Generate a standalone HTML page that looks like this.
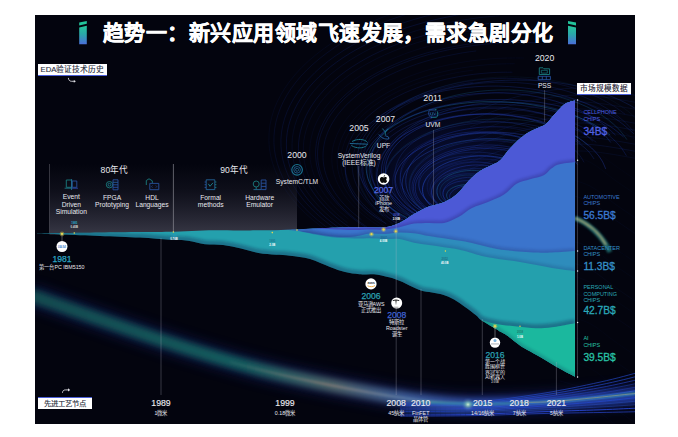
<!DOCTYPE html>
<html lang="zh-CN"><head><meta charset="utf-8">
<style>
html,body{margin:0;padding:0;background:#fff;}
body{width:678px;height:437px;position:relative;overflow:hidden;font-family:"Liberation Sans",sans-serif;}
#panel{position:absolute;left:35px;top:15px;width:600px;height:409px;background:#03040e;overflow:hidden;}
svg{position:absolute;left:0;top:0;}
.t{position:absolute;white-space:nowrap;line-height:1;transform:translate(-50%,-50%);color:#e9e9ef;text-align:center;}
.l{position:absolute;white-space:nowrap;line-height:1;transform:translate(0,-50%);}
.title{position:absolute;left:103px;top:21px;font-size:21px;font-weight:bold;-webkit-text-stroke:0.45px #fff;color:#fff;white-space:nowrap;line-height:24px;letter-spacing:0.46px;}
.lab{position:absolute;background:#fff;color:#252a38;-webkit-text-stroke:0.12px currentColor;font-size:7.3px;line-height:11px;text-align:center;white-space:nowrap;}
.yr{font-size:8.7px;-webkit-text-stroke:0.15px currentColor;}
.yr2{font-size:8.7px;}
.sm{font-size:5.3px;}
.ic{font-size:6.7px;line-height:7.4px;text-align:center;}
.big{font-size:8.6px;-webkit-text-stroke:0.25px currentColor;}
</style></head>
<body>
<div id="panel"></div>
<svg width="678" height="437" viewBox="0 0 678 437">
  <defs>
    <linearGradient id="gi" x1="0" y1="0" x2="0" y2="1">
      <stop offset="0" stop-color="#26c69a"/><stop offset="0.45" stop-color="#2aa8a8"/><stop offset="1" stop-color="#4a6ed8"/>
    </linearGradient>
    <linearGradient id="gpanel" x1="0" y1="0" x2="0" y2="1">
      <stop offset="0" stop-color="#2c2c38" stop-opacity="0"/><stop offset="0.35" stop-color="#2c2c3a" stop-opacity="0.25"/><stop offset="1" stop-color="#3a3a48" stop-opacity="0.95"/>
    </linearGradient>
    <linearGradient id="gicon" x1="0" y1="0" x2="0" y2="1">
      <stop offset="0" stop-color="#1fa3a8"/><stop offset="1" stop-color="#3b5fd0"/>
    </linearGradient>
    <filter id="blur2"><feGaussianBlur stdDeviation="2"/></filter>
    <filter id="blur1"><feGaussianBlur stdDeviation="0.8"/></filter>
    <filter id="blur5"><feGaussianBlur stdDeviation="5"/></filter>
    <clipPath id="pclip"><rect x="35" y="15" width="600" height="409"/></clipPath>
  </defs>
  <g clip-path="url(#pclip)">
    <!-- swirl background -->
    <radialGradient id="gvort" cx="0.5" cy="0.5" r="0.5">
      <stop offset="0" stop-color="#1a34a8" stop-opacity="0.30"/><stop offset="0.6" stop-color="#10208a" stop-opacity="0.15"/><stop offset="1" stop-color="#0a1250" stop-opacity="0"/>
    </radialGradient>
    <ellipse cx="450" cy="175" rx="95" ry="75" fill="url(#gvort)"/>
    <path d="M484.0,192.4 C483.9,192.2 483.5,191.5 483.1,191.1 C482.7,190.6 482.3,190.2 481.8,189.8 C481.3,189.4 480.7,189.0 480.1,188.6 C479.5,188.3 478.8,188.0 478.1,187.7 C477.4,187.4 476.6,187.1 475.8,186.9 C475.0,186.6 474.2,186.4 473.3,186.3 C472.5,186.1 471.6,186.0 470.7,185.9 C469.8,185.9 468.9,185.8 468.0,185.8 C467.1,185.9 466.3,185.9 465.4,186.0 C464.5,186.1 463.7,186.2 462.8,186.3 C462.0,186.5 461.2,186.7 460.4,186.9 C459.6,187.1 458.9,187.4 458.2,187.6 C457.5,187.9 456.8,188.2 456.2,188.5 C455.6,188.8 455.0,189.1 454.5,189.5 C453.9,189.8 453.4,190.2 453.0,190.6 C452.5,191.0 452.1,191.4 451.7,191.8 C451.4,192.2 451.0,192.6 450.8,193.1 C450.5,193.5 450.3,193.9 450.1,194.4 C449.9,194.8 449.8,195.3 449.7,195.8 C449.7,196.2 449.6,196.7 449.7,197.2 C449.7,197.6 449.8,198.1 450.0,198.6 C450.2,199.0 450.4,199.5 450.7,199.9 C451.0,200.4 451.3,200.8 451.7,201.3 C452.1,201.7 452.6,202.1 453.2,202.5 C453.7,202.9 454.3,203.3 455.0,203.6 C455.6,203.9 456.7,204.4 457.1,204.5" fill="none" stroke="#2446d0" stroke-width="0.8" opacity="0.42"/>
    <path d="M488.8,193.2 C488.6,192.9 488.2,192.1 487.8,191.5 C487.4,191.0 486.9,190.4 486.3,189.9 C485.8,189.4 485.1,189.0 484.4,188.5 C483.7,188.1 482.9,187.7 482.1,187.3 C481.3,187.0 480.4,186.6 479.6,186.3 C478.7,186.1 477.8,185.8 476.8,185.6 C475.9,185.4 474.9,185.2 473.9,185.0 C472.9,184.9 471.9,184.8 470.9,184.7 C469.9,184.6 468.9,184.6 467.9,184.6 C466.9,184.6 465.9,184.6 464.9,184.7 C463.9,184.7 462.9,184.8 461.9,185.0 C460.9,185.1 459.9,185.3 459.0,185.5 C458.0,185.7 457.1,186.0 456.2,186.3 C455.3,186.6 454.4,186.9 453.6,187.3 C452.8,187.7 452.0,188.1 451.3,188.5 C450.6,188.9 450.0,189.4 449.4,189.9 C448.9,190.4 448.4,191.0 448.0,191.5 C447.6,192.1 447.2,192.7 447.0,193.2 C446.8,193.8 446.7,194.4 446.6,195.0 C446.6,195.6 446.7,196.2 446.8,196.8 C447.0,197.4 447.3,198.0 447.6,198.5 C448.0,199.1 448.4,199.7 448.9,200.2 C449.4,200.7 450.0,201.2 450.7,201.7 C451.3,202.1 452.0,202.5 452.8,202.9 C453.6,203.3 454.4,203.7 455.3,204.0 C456.1,204.3 457.5,204.7 457.9,204.9" fill="none" stroke="#1c70a8" stroke-width="0.8" opacity="0.55"/>
    <path d="M493.1,188.6 C492.8,188.3 491.9,187.5 491.2,187.0 C490.5,186.4 489.8,185.9 489.0,185.5 C488.2,185.0 487.3,184.6 486.4,184.2 C485.5,183.8 484.6,183.4 483.6,183.1 C482.7,182.7 481.7,182.4 480.6,182.2 C479.6,181.9 478.5,181.7 477.5,181.5 C476.4,181.3 475.3,181.1 474.2,181.0 C473.1,180.8 471.9,180.7 470.8,180.7 C469.7,180.6 468.5,180.6 467.4,180.6 C466.2,180.6 465.1,180.7 463.9,180.8 C462.8,180.9 461.6,181.0 460.5,181.2 C459.4,181.4 458.2,181.6 457.1,181.8 C456.1,182.1 455.0,182.4 454.0,182.8 C453.0,183.1 452.0,183.5 451.1,184.0 C450.2,184.4 449.3,184.9 448.5,185.4 C447.7,185.9 447.0,186.4 446.3,187.0 C445.7,187.6 445.1,188.2 444.7,188.8 C444.2,189.4 443.8,190.1 443.6,190.7 C443.3,191.4 443.1,192.1 443.0,192.7 C442.9,193.4 442.9,194.1 443.0,194.7 C443.1,195.4 443.3,196.1 443.6,196.7 C443.9,197.4 444.3,198.0 444.8,198.6 C445.2,199.2 445.8,199.8 446.4,200.4 C447.0,200.9 447.6,201.5 448.4,202.0 C449.1,202.5 449.9,203.0 450.7,203.4 C451.5,203.8 452.9,204.4 453.3,204.6" fill="none" stroke="#2446d0" stroke-width="0.7" opacity="0.42"/>
    <path d="M496.7,189.3 C496.4,188.9 495.9,187.8 495.3,187.1 C494.8,186.3 494.2,185.6 493.5,184.9 C492.8,184.3 492.0,183.6 491.0,183.0 C490.1,182.4 489.1,181.8 488.1,181.2 C487.0,180.7 485.8,180.2 484.6,179.7 C483.3,179.3 482.0,178.9 480.6,178.5 C479.3,178.2 477.8,177.9 476.4,177.7 C474.9,177.5 473.4,177.4 471.9,177.3 C470.4,177.3 468.8,177.3 467.3,177.4 C465.8,177.5 464.3,177.7 462.9,177.9 C461.4,178.1 460.0,178.4 458.7,178.8 C457.3,179.2 456.0,179.6 454.8,180.1 C453.6,180.5 452.5,181.1 451.5,181.7 C450.4,182.2 449.5,182.9 448.6,183.5 C447.8,184.1 447.0,184.8 446.4,185.5 C445.7,186.2 445.2,187.0 444.7,187.7 C444.2,188.4 443.8,189.2 443.6,189.9 C443.3,190.7 443.1,191.5 443.0,192.2 C442.9,193.0 442.9,193.8 443.0,194.5 C443.0,195.3 443.2,196.1 443.5,196.8 C443.7,197.6 444.1,198.3 444.5,199.1 C445.0,199.8 445.5,200.5 446.1,201.2 C446.8,201.9 447.5,202.6 448.3,203.3 C449.1,203.9 450.1,204.6 451.1,205.1 C452.1,205.7 453.1,206.3 454.3,206.8 C455.5,207.3 457.4,207.9 458.1,208.1" fill="none" stroke="#2a56e0" stroke-width="0.6" opacity="0.40"/>
    <path d="M497.5,184.3 C497.1,184.0 496.1,183.0 495.2,182.4 C494.4,181.8 493.5,181.3 492.6,180.7 C491.6,180.2 490.6,179.6 489.5,179.2 C488.5,178.7 487.3,178.2 486.2,177.8 C485.0,177.4 483.8,177.0 482.5,176.7 C481.2,176.3 479.9,176.0 478.5,175.8 C477.1,175.6 475.7,175.4 474.3,175.2 C472.9,175.1 471.4,175.0 470.0,175.0 C468.5,175.0 467.0,175.0 465.6,175.1 C464.1,175.2 462.7,175.4 461.3,175.6 C459.8,175.8 458.4,176.1 457.1,176.4 C455.7,176.8 454.4,177.2 453.2,177.6 C452.0,178.1 450.8,178.6 449.7,179.1 C448.6,179.7 447.6,180.3 446.7,180.9 C445.7,181.5 444.9,182.2 444.2,182.9 C443.4,183.6 442.8,184.3 442.2,185.0 C441.7,185.8 441.2,186.5 440.9,187.3 C440.5,188.0 440.3,188.8 440.1,189.6 C440.0,190.4 439.9,191.1 440.0,191.9 C440.0,192.7 440.1,193.5 440.3,194.2 C440.5,195.0 440.8,195.7 441.2,196.4 C441.5,197.2 442.0,197.9 442.5,198.6 C443.0,199.3 443.6,200.0 444.2,200.6 C444.9,201.3 445.6,201.9 446.4,202.6 C447.1,203.2 448.0,203.8 448.9,204.3 C449.8,204.9 451.3,205.7 451.8,206.0" fill="none" stroke="#1c70a8" stroke-width="0.7" opacity="0.33"/>
    <path d="M504.9,185.7 C504.5,185.3 503.5,184.1 502.7,183.4 C501.8,182.7 500.9,182.0 499.9,181.4 C499.0,180.7 497.9,180.1 496.8,179.5 C495.7,178.9 494.5,178.4 493.3,177.9 C492.1,177.4 490.8,177.0 489.5,176.6 C488.2,176.2 486.9,175.8 485.5,175.5 C484.1,175.1 482.7,174.9 481.3,174.6 C479.8,174.4 478.4,174.2 476.9,174.0 C475.4,173.9 473.9,173.8 472.4,173.7 C470.9,173.7 469.4,173.7 467.8,173.7 C466.3,173.8 464.8,173.9 463.3,174.0 C461.7,174.2 460.2,174.4 458.7,174.7 C457.3,174.9 455.8,175.3 454.4,175.6 C453.0,176.0 451.6,176.4 450.3,176.9 C448.9,177.4 447.7,178.0 446.5,178.6 C445.3,179.2 444.2,179.8 443.2,180.5 C442.2,181.2 441.3,181.9 440.5,182.7 C439.7,183.5 439.0,184.3 438.4,185.1 C437.8,185.9 437.3,186.8 437.0,187.7 C436.7,188.5 436.5,189.4 436.4,190.3 C436.3,191.2 436.3,192.1 436.5,193.0 C436.6,193.8 436.9,194.7 437.3,195.5 C437.7,196.4 438.2,197.2 438.8,198.0 C439.4,198.8 440.1,199.6 440.8,200.3 C441.6,201.1 442.5,201.8 443.4,202.5 C444.4,203.1 446.0,204.0 446.5,204.4" fill="none" stroke="#2446d0" stroke-width="0.6" opacity="0.32"/>
    <path d="M503.9,181.4 C503.5,181.0 502.3,179.8 501.4,179.1 C500.5,178.4 499.5,177.6 498.4,177.0 C497.3,176.3 496.1,175.7 494.9,175.1 C493.6,174.5 492.3,173.9 490.9,173.4 C489.5,172.9 488.0,172.5 486.4,172.1 C484.9,171.7 483.3,171.4 481.7,171.1 C480.0,170.9 478.3,170.7 476.7,170.6 C475.0,170.4 473.2,170.4 471.5,170.4 C469.8,170.4 468.1,170.5 466.4,170.7 C464.8,170.9 463.1,171.1 461.5,171.4 C459.9,171.7 458.3,172.1 456.8,172.5 C455.3,172.9 453.8,173.4 452.5,174.0 C451.1,174.5 449.8,175.1 448.6,175.7 C447.4,176.4 446.3,177.1 445.3,177.8 C444.3,178.5 443.3,179.3 442.5,180.0 C441.7,180.8 440.9,181.6 440.3,182.4 C439.7,183.2 439.1,184.1 438.7,184.9 C438.2,185.8 437.9,186.6 437.6,187.5 C437.4,188.4 437.2,189.2 437.1,190.1 C437.0,191.0 437.1,191.8 437.1,192.7 C437.2,193.6 437.4,194.4 437.7,195.3 C438.0,196.1 438.3,197.0 438.8,197.8 C439.2,198.6 439.8,199.5 440.4,200.3 C441.0,201.1 441.7,201.9 442.5,202.7 C443.3,203.4 444.2,204.2 445.2,204.9 C446.2,205.6 447.8,206.6 448.4,206.9" fill="none" stroke="#1c70a8" stroke-width="0.8" opacity="0.50"/>
    <path d="M514.1,182.7 C513.7,182.2 512.6,180.6 511.7,179.7 C510.7,178.7 509.6,177.7 508.4,176.9 C507.1,176.0 505.8,175.1 504.3,174.4 C502.8,173.6 501.2,172.9 499.6,172.3 C497.9,171.7 496.1,171.2 494.3,170.7 C492.5,170.2 490.7,169.8 488.8,169.5 C486.9,169.2 485.0,169.0 483.0,168.8 C481.1,168.7 479.1,168.6 477.2,168.6 C475.3,168.6 473.4,168.7 471.5,168.8 C469.6,168.9 467.7,169.1 465.9,169.4 C464.0,169.6 462.2,169.9 460.5,170.3 C458.7,170.7 457.0,171.1 455.4,171.6 C453.7,172.1 452.1,172.6 450.6,173.2 C449.0,173.8 447.5,174.5 446.1,175.2 C444.7,175.8 443.4,176.6 442.1,177.4 C440.9,178.2 439.7,179.0 438.7,179.9 C437.6,180.8 436.6,181.7 435.8,182.7 C435.0,183.6 434.2,184.6 433.6,185.7 C433.0,186.7 432.6,187.8 432.3,188.8 C432.0,189.9 431.8,191.0 431.8,192.1 C431.8,193.2 432.0,194.3 432.3,195.4 C432.6,196.5 433.1,197.6 433.8,198.7 C434.4,199.7 435.2,200.8 436.2,201.7 C437.1,202.7 438.3,203.7 439.5,204.6 C440.7,205.4 442.1,206.3 443.6,207.0 C445.0,207.8 447.5,208.8 448.3,209.1" fill="none" stroke="#2a56e0" stroke-width="0.8" opacity="0.28"/>
    <path d="M510.3,174.2 C509.7,173.8 507.8,172.5 506.4,171.6 C504.9,170.8 503.4,170.1 501.7,169.4 C500.1,168.7 498.3,168.1 496.5,167.6 C494.7,167.0 492.8,166.6 490.8,166.2 C488.9,165.8 486.8,165.5 484.8,165.3 C482.8,165.1 480.7,165.0 478.7,165.0 C476.6,164.9 474.6,165.0 472.6,165.1 C470.5,165.2 468.5,165.5 466.6,165.7 C464.6,166.0 462.7,166.4 460.9,166.8 C459.0,167.3 457.2,167.8 455.5,168.3 C453.8,168.8 452.2,169.5 450.7,170.1 C449.1,170.8 447.7,171.5 446.3,172.2 C444.9,173.0 443.6,173.8 442.4,174.6 C441.2,175.4 440.1,176.3 439.1,177.2 C438.1,178.1 437.2,179.0 436.4,179.9 C435.5,180.9 434.8,181.9 434.2,182.9 C433.6,183.9 433.0,184.9 432.6,185.9 C432.2,186.9 431.9,188.0 431.7,189.0 C431.5,190.1 431.4,191.2 431.5,192.3 C431.5,193.3 431.7,194.4 432.0,195.5 C432.3,196.6 432.7,197.6 433.3,198.7 C433.8,199.7 434.5,200.8 435.4,201.8 C436.2,202.8 437.2,203.8 438.3,204.7 C439.4,205.7 440.6,206.6 442.0,207.4 C443.3,208.3 444.8,209.1 446.4,209.8 C448.0,210.5 450.6,211.4 451.4,211.8" fill="none" stroke="#3050e0" stroke-width="0.7" opacity="0.44"/>
    <path d="M521.3,185.6 C521.2,185.0 520.7,183.1 520.2,181.8 C519.6,180.6 518.9,179.4 518.1,178.2 C517.2,177.0 516.2,175.8 515.1,174.7 C513.9,173.5 512.6,172.4 511.1,171.4 C509.6,170.4 507.9,169.4 506.2,168.5 C504.4,167.6 502.4,166.8 500.4,166.0 C498.4,165.3 496.2,164.6 493.9,164.1 C491.7,163.6 489.3,163.1 486.9,162.8 C484.5,162.5 482.1,162.2 479.6,162.1 C477.2,162.0 474.6,162.1 472.2,162.2 C469.8,162.3 467.3,162.6 464.9,163.0 C462.6,163.3 460.3,163.8 458.1,164.4 C455.9,164.9 453.7,165.6 451.7,166.3 C449.8,167.1 447.9,167.9 446.1,168.8 C444.4,169.7 442.8,170.7 441.3,171.7 C439.8,172.7 438.5,173.8 437.3,174.9 C436.2,176.0 435.1,177.1 434.2,178.3 C433.3,179.4 432.6,180.6 432.0,181.9 C431.4,183.1 430.9,184.3 430.6,185.5 C430.3,186.8 430.1,188.0 430.0,189.3 C430.0,190.5 430.1,191.8 430.4,193.1 C430.6,194.3 431.0,195.6 431.6,196.8 C432.1,198.0 432.8,199.3 433.7,200.4 C434.6,201.6 435.6,202.8 436.8,203.9 C437.9,205.1 439.3,206.2 440.8,207.2 C442.3,208.2 444.9,209.6 445.7,210.1" fill="none" stroke="#2446d0" stroke-width="0.7" opacity="0.27"/>
    <path d="M513.5,173.1 C512.8,172.7 511.0,171.4 509.6,170.7 C508.2,169.9 506.8,169.2 505.2,168.5 C503.7,167.8 502.1,167.2 500.5,166.6 C498.8,166.0 497.1,165.4 495.3,164.9 C493.6,164.4 491.7,164.0 489.8,163.6 C488.0,163.2 486.0,162.9 484.1,162.6 C482.1,162.4 480.1,162.2 478.0,162.0 C476.0,161.9 473.9,161.8 471.9,161.9 C469.8,161.9 467.7,162.0 465.7,162.1 C463.6,162.3 461.5,162.5 459.5,162.9 C457.5,163.2 455.5,163.6 453.6,164.0 C451.7,164.5 449.8,165.1 448.0,165.7 C446.2,166.3 444.5,167.0 442.9,167.8 C441.3,168.5 439.7,169.3 438.3,170.2 C436.9,171.1 435.6,172.0 434.5,173.0 C433.3,174.0 432.3,175.0 431.4,176.0 C430.5,177.1 429.8,178.2 429.2,179.3 C428.6,180.4 428.1,181.5 427.8,182.6 C427.4,183.7 427.2,184.9 427.2,186.0 C427.1,187.1 427.2,188.3 427.4,189.4 C427.6,190.5 427.9,191.6 428.3,192.7 C428.8,193.8 429.3,194.8 430.0,195.9 C430.6,196.9 431.4,197.9 432.3,198.9 C433.1,199.9 434.1,200.8 435.1,201.7 C436.1,202.7 437.3,203.6 438.5,204.4 C439.7,205.3 441.7,206.4 442.3,206.8" fill="none" stroke="#2446d0" stroke-width="0.7" opacity="0.22"/>
    <path d="M520.7,168.5 C519.8,168.1 517.4,166.6 515.5,165.7 C513.7,164.8 511.7,164.0 509.7,163.3 C507.6,162.6 505.5,162.0 503.3,161.5 C501.1,160.9 498.8,160.5 496.5,160.1 C494.3,159.7 491.9,159.5 489.6,159.3 C487.3,159.1 484.9,159.0 482.6,159.0 C480.3,158.9 477.9,159.0 475.7,159.1 C473.4,159.3 471.1,159.5 468.9,159.7 C466.6,160.0 464.4,160.4 462.3,160.8 C460.1,161.2 458.0,161.7 456.0,162.2 C454.0,162.7 452.0,163.3 450.0,164.0 C448.1,164.6 446.3,165.4 444.5,166.1 C442.7,166.9 441.0,167.7 439.4,168.6 C437.7,169.5 436.2,170.4 434.8,171.4 C433.3,172.4 432.0,173.4 430.8,174.5 C429.5,175.6 428.4,176.7 427.5,177.9 C426.5,179.1 425.6,180.3 425.0,181.5 C424.3,182.8 423.7,184.0 423.3,185.3 C423.0,186.6 422.7,188.0 422.7,189.3 C422.7,190.6 422.8,191.9 423.1,193.3 C423.4,194.6 423.9,195.9 424.6,197.2 C425.3,198.5 426.1,199.7 427.1,201.0 C428.1,202.2 429.3,203.4 430.7,204.5 C432.0,205.6 433.5,206.7 435.2,207.7 C436.8,208.7 438.6,209.6 440.5,210.4 C442.3,211.3 445.4,212.4 446.4,212.7" fill="none" stroke="#2446d0" stroke-width="0.8" opacity="0.24"/>
    <path d="M530.0,173.0 C529.3,172.3 527.7,170.3 526.3,169.1 C524.9,167.9 523.3,166.7 521.5,165.6 C519.8,164.5 517.9,163.4 515.8,162.5 C513.8,161.5 511.6,160.7 509.3,159.9 C507.0,159.1 504.6,158.5 502.1,157.9 C499.6,157.4 497.1,156.9 494.5,156.6 C491.9,156.3 489.2,156.0 486.6,155.9 C484.0,155.8 481.3,155.8 478.7,155.9 C476.1,156.0 473.5,156.2 471.0,156.5 C468.4,156.8 465.9,157.2 463.5,157.7 C461.1,158.1 458.8,158.7 456.5,159.4 C454.3,160.0 452.1,160.7 450.0,161.5 C448.0,162.3 446.0,163.1 444.1,164.0 C442.2,164.9 440.5,165.9 438.8,166.9 C437.2,167.9 435.6,169.0 434.2,170.1 C432.7,171.2 431.4,172.3 430.2,173.5 C429.0,174.7 427.9,176.0 427.0,177.2 C426.1,178.5 425.2,179.8 424.6,181.1 C423.9,182.5 423.4,183.8 423.1,185.2 C422.7,186.6 422.5,188.0 422.5,189.4 C422.5,190.8 422.6,192.2 422.9,193.6 C423.3,195.0 423.8,196.5 424.5,197.9 C425.2,199.2 426.1,200.6 427.2,201.9 C428.2,203.3 429.5,204.6 430.9,205.8 C432.4,207.0 434.0,208.2 435.8,209.3 C437.6,210.4 440.6,211.8 441.6,212.3" fill="none" stroke="#2a56e0" stroke-width="0.8" opacity="0.52"/>
    <path d="M523.2,167.4 C522.3,166.9 519.5,165.3 517.5,164.3 C515.5,163.4 513.4,162.5 511.3,161.7 C509.1,161.0 506.8,160.2 504.5,159.6 C502.2,158.9 499.8,158.4 497.4,157.9 C494.9,157.4 492.4,157.0 489.9,156.6 C487.3,156.3 484.7,156.0 482.1,155.9 C479.5,155.7 476.8,155.6 474.2,155.6 C471.5,155.7 468.8,155.8 466.2,156.0 C463.5,156.2 460.8,156.5 458.2,156.9 C455.6,157.3 453.0,157.9 450.5,158.5 C448.0,159.1 445.6,159.8 443.3,160.7 C440.9,161.5 438.7,162.4 436.6,163.5 C434.6,164.5 432.6,165.6 430.8,166.8 C429.1,168.0 427.5,169.3 426.1,170.6 C424.7,172.0 423.5,173.4 422.5,174.8 C421.5,176.3 420.7,177.8 420.1,179.3 C419.6,180.8 419.3,182.3 419.1,183.9 C419.0,185.4 419.1,186.9 419.5,188.4 C419.8,189.9 420.3,191.4 421.0,192.9 C421.7,194.3 422.6,195.8 423.7,197.1 C424.8,198.5 426.1,199.8 427.4,201.1 C428.8,202.4 430.4,203.6 432.1,204.7 C433.7,205.8 435.5,206.9 437.4,207.9 C439.3,208.9 441.3,209.9 443.4,210.7 C445.5,211.6 447.7,212.4 449.9,213.1 C452.2,213.8 455.7,214.7 456.9,215.0" fill="none" stroke="#2040c0" stroke-width="0.7" opacity="0.38"/>
    <path d="M530.7,169.5 C529.9,168.9 527.8,167.1 526.1,166.0 C524.5,164.9 522.7,163.8 520.9,162.8 C519.0,161.8 517.1,160.9 515.0,160.0 C513.0,159.1 510.8,158.2 508.6,157.5 C506.3,156.7 504.0,156.0 501.6,155.4 C499.2,154.8 496.7,154.2 494.1,153.8 C491.6,153.3 488.9,153.0 486.3,152.7 C483.6,152.4 480.9,152.2 478.1,152.2 C475.4,152.1 472.6,152.1 469.9,152.3 C467.1,152.4 464.3,152.6 461.6,153.0 C458.9,153.3 456.2,153.8 453.6,154.4 C451.0,155.0 448.5,155.6 446.1,156.4 C443.6,157.2 441.3,158.1 439.1,159.1 C436.9,160.1 434.9,161.2 433.0,162.3 C431.1,163.4 429.4,164.7 427.8,166.0 C426.3,167.3 424.9,168.6 423.8,170.0 C422.6,171.4 421.6,172.9 420.8,174.3 C420.1,175.8 419.5,177.3 419.1,178.8 C418.7,180.3 418.5,181.8 418.5,183.3 C418.5,184.8 418.7,186.3 419.0,187.7 C419.3,189.2 419.9,190.7 420.5,192.1 C421.2,193.5 422.0,194.9 423.0,196.2 C423.9,197.6 425.1,198.9 426.3,200.2 C427.5,201.4 428.9,202.7 430.4,203.9 C431.8,205.0 433.4,206.2 435.2,207.3 C436.9,208.3 439.7,209.8 440.6,210.3" fill="none" stroke="#2a56e0" stroke-width="0.6" opacity="0.31"/>
    <path d="M541.9,168.3 C541.1,167.5 539.1,165.1 537.4,163.7 C535.7,162.2 533.7,160.8 531.6,159.5 C529.5,158.2 527.1,157.0 524.7,155.9 C522.2,154.8 519.5,153.8 516.8,152.9 C514.0,152.1 511.1,151.3 508.1,150.7 C505.2,150.1 502.1,149.6 499.0,149.3 C495.9,148.9 492.8,148.7 489.7,148.6 C486.6,148.5 483.4,148.5 480.4,148.7 C477.3,148.8 474.2,149.1 471.3,149.5 C468.3,149.9 465.4,150.4 462.5,151.0 C459.7,151.6 457.0,152.3 454.3,153.0 C451.7,153.8 449.1,154.7 446.7,155.6 C444.3,156.5 442.0,157.6 439.8,158.7 C437.6,159.7 435.5,160.9 433.6,162.1 C431.6,163.3 429.8,164.6 428.1,165.9 C426.4,167.3 424.9,168.6 423.5,170.1 C422.1,171.5 420.9,173.0 419.8,174.6 C418.7,176.1 417.8,177.7 417.1,179.3 C416.4,180.9 415.9,182.5 415.6,184.2 C415.3,185.9 415.1,187.6 415.3,189.3 C415.4,191.0 415.7,192.7 416.3,194.4 C416.8,196.0 417.6,197.7 418.7,199.3 C419.7,201.0 421.0,202.6 422.5,204.1 C423.9,205.6 425.7,207.1 427.6,208.5 C429.5,209.9 431.7,211.2 433.9,212.4 C436.2,213.7 440.1,215.2 441.4,215.8" fill="none" stroke="#2446d0" stroke-width="0.8" opacity="0.42"/>
    <path d="M548.2,172.5 C547.7,171.7 546.4,169.2 545.1,167.6 C543.8,166.0 542.3,164.4 540.6,162.9 C538.9,161.4 537.0,160.0 534.8,158.6 C532.7,157.3 530.4,156.0 527.9,154.9 C525.5,153.8 522.8,152.7 520.0,151.8 C517.3,150.9 514.4,150.1 511.4,149.5 C508.4,148.8 505.4,148.3 502.3,147.9 C499.2,147.5 496.0,147.2 492.9,147.0 C489.7,146.9 486.5,146.9 483.4,147.0 C480.3,147.1 477.2,147.3 474.2,147.6 C471.1,147.9 468.1,148.4 465.2,148.9 C462.3,149.4 459.5,150.1 456.8,150.8 C454.1,151.5 451.4,152.3 448.9,153.2 C446.3,154.1 443.9,155.0 441.6,156.1 C439.3,157.1 437.1,158.2 435.0,159.4 C432.9,160.6 430.9,161.8 429.1,163.1 C427.3,164.4 425.6,165.7 424.0,167.2 C422.5,168.6 421.0,170.0 419.8,171.5 C418.6,173.0 417.5,174.6 416.6,176.2 C415.7,177.8 414.9,179.5 414.4,181.1 C413.9,182.8 413.5,184.5 413.4,186.2 C413.3,187.9 413.4,189.7 413.8,191.4 C414.1,193.1 414.7,194.8 415.4,196.5 C416.2,198.2 417.3,199.9 418.5,201.5 C419.8,203.1 421.3,204.7 423.0,206.2 C424.7,207.7 427.8,209.7 428.7,210.4" fill="none" stroke="#3050e0" stroke-width="0.8" opacity="0.35"/>
    <path d="M545.9,164.4 C545.1,163.7 542.9,161.4 541.1,160.0 C539.3,158.6 537.3,157.2 535.2,156.0 C533.0,154.7 530.7,153.6 528.2,152.5 C525.8,151.5 523.1,150.5 520.4,149.6 C517.7,148.8 514.8,148.0 511.9,147.4 C509.0,146.8 506.0,146.3 503.0,145.9 C500.0,145.5 496.9,145.3 493.9,145.1 C490.8,145.0 487.7,144.9 484.7,145.0 C481.6,145.1 478.6,145.3 475.6,145.6 C472.6,145.9 469.7,146.3 466.8,146.8 C464.0,147.3 461.2,147.8 458.5,148.5 C455.8,149.2 453.2,149.9 450.7,150.8 C448.1,151.6 445.7,152.5 443.4,153.4 C441.1,154.4 438.9,155.5 436.7,156.5 C434.6,157.6 432.6,158.8 430.8,160.0 C428.9,161.2 427.1,162.5 425.5,163.8 C423.8,165.1 422.3,166.5 421.0,167.9 C419.6,169.3 418.3,170.8 417.3,172.3 C416.2,173.8 415.2,175.3 414.5,176.9 C413.7,178.5 413.1,180.1 412.7,181.7 C412.3,183.3 412.0,185.0 412.0,186.6 C412.0,188.3 412.1,190.0 412.5,191.6 C412.9,193.3 413.4,195.0 414.2,196.6 C415.0,198.2 416.0,199.9 417.2,201.4 C418.4,203.0 419.8,204.6 421.4,206.0 C423.0,207.5 425.9,209.5 426.8,210.2" fill="none" stroke="#2446d0" stroke-width="0.7" opacity="0.39"/>
    <path d="M551.3,162.5 C550.4,161.6 548.0,159.0 546.0,157.3 C544.0,155.7 541.7,154.1 539.3,152.6 C536.8,151.2 534.1,149.8 531.2,148.6 C528.4,147.3 525.3,146.2 522.1,145.2 C518.9,144.3 515.6,143.4 512.2,142.7 C508.7,142.1 505.2,141.5 501.6,141.2 C498.1,140.8 494.4,140.6 490.8,140.5 C487.2,140.5 483.6,140.6 480.0,140.8 C476.5,141.0 472.9,141.4 469.5,141.9 C466.1,142.4 462.7,143.1 459.5,143.9 C456.3,144.6 453.2,145.5 450.2,146.5 C447.3,147.5 444.4,148.6 441.7,149.8 C439.1,150.9 436.5,152.2 434.1,153.5 C431.8,154.9 429.5,156.3 427.5,157.8 C425.4,159.2 423.5,160.8 421.8,162.4 C420.1,164.0 418.5,165.6 417.1,167.3 C415.8,169.0 414.5,170.7 413.5,172.5 C412.5,174.3 411.7,176.1 411.1,177.9 C410.5,179.8 410.1,181.7 409.9,183.5 C409.7,185.4 409.7,187.4 410.0,189.3 C410.3,191.2 410.8,193.1 411.5,195.0 C412.3,196.9 413.3,198.7 414.5,200.6 C415.8,202.4 417.3,204.2 419.0,205.9 C420.8,207.6 422.8,209.3 425.0,210.9 C427.2,212.4 429.7,213.9 432.4,215.3 C435.0,216.6 439.5,218.4 441.0,219.0" fill="none" stroke="#3050e0" stroke-width="0.8" opacity="0.24"/>
    <path d="M553.4,162.8 C552.6,161.9 550.5,159.4 548.7,157.8 C546.9,156.2 544.9,154.6 542.7,153.1 C540.5,151.7 538.1,150.3 535.6,149.0 C533.0,147.8 530.2,146.6 527.3,145.5 C524.4,144.5 521.3,143.5 518.2,142.7 C515.0,141.9 511.7,141.2 508.4,140.7 C505.0,140.2 501.6,139.8 498.2,139.5 C494.7,139.3 491.2,139.2 487.8,139.2 C484.4,139.2 480.9,139.4 477.5,139.7 C474.1,140.0 470.8,140.4 467.5,140.9 C464.3,141.5 461.1,142.1 458.1,142.9 C455.0,143.7 452.0,144.5 449.2,145.5 C446.4,146.5 443.7,147.5 441.1,148.7 C438.6,149.8 436.1,151.0 433.9,152.3 C431.6,153.6 429.5,154.9 427.5,156.3 C425.5,157.7 423.6,159.2 422.0,160.7 C420.3,162.2 418.7,163.8 417.4,165.4 C416.0,167.0 414.8,168.6 413.7,170.3 C412.7,171.9 411.8,173.7 411.1,175.4 C410.4,177.1 409.9,178.9 409.5,180.7 C409.2,182.5 409.0,184.3 409.1,186.1 C409.1,187.9 409.4,189.7 409.8,191.5 C410.3,193.3 410.9,195.1 411.8,196.9 C412.7,198.7 413.8,200.5 415.1,202.2 C416.5,203.9 418.0,205.6 419.8,207.2 C421.5,208.8 424.7,211.0 425.7,211.8" fill="none" stroke="#1c70a8" stroke-width="0.6" opacity="0.29"/>
    <path d="M568.5,176.5 C568.2,175.3 567.4,171.6 566.3,169.2 C565.1,166.8 563.5,164.5 561.6,162.3 C559.7,160.0 557.3,157.9 554.7,155.9 C552.0,153.9 549.0,152.1 545.8,150.4 C542.6,148.7 539.0,147.2 535.3,145.8 C531.7,144.5 527.7,143.4 523.7,142.4 C519.7,141.4 515.6,140.7 511.4,140.1 C507.2,139.5 503.0,139.1 498.7,138.9 C494.5,138.6 490.2,138.6 486.0,138.7 C481.8,138.8 477.6,139.1 473.5,139.5 C469.4,140.0 465.4,140.6 461.4,141.3 C457.5,142.0 453.6,142.9 449.9,143.9 C446.1,144.9 442.5,146.1 439.0,147.4 C435.6,148.6 432.2,150.1 429.1,151.6 C426.0,153.2 423.0,154.9 420.3,156.7 C417.6,158.5 415.1,160.5 412.9,162.5 C410.8,164.6 408.8,166.7 407.3,169.0 C405.7,171.2 404.4,173.6 403.6,175.9 C402.7,178.3 402.2,180.8 402.2,183.2 C402.1,185.7 402.4,188.2 403.2,190.6 C403.9,193.0 405.1,195.4 406.6,197.7 C408.2,200.1 410.2,202.3 412.4,204.4 C414.7,206.5 417.4,208.6 420.4,210.4 C423.3,212.2 426.6,214.0 430.1,215.5 C433.5,217.0 437.3,218.3 441.1,219.5 C445.0,220.6 451.1,221.9 453.1,222.4" fill="none" stroke="#2a56e0" stroke-width="0.8" opacity="0.42"/>
    <path d="M555.0,155.9 C553.9,155.0 550.9,152.2 548.6,150.6 C546.2,148.9 543.6,147.2 540.8,145.7 C538.0,144.2 535.0,142.8 531.8,141.5 C528.6,140.2 525.2,139.0 521.6,138.0 C518.1,137.0 514.3,136.1 510.5,135.4 C506.7,134.7 502.7,134.1 498.7,133.7 C494.8,133.4 490.7,133.2 486.6,133.2 C482.6,133.2 478.5,133.3 474.5,133.7 C470.5,134.0 466.5,134.5 462.6,135.2 C458.8,135.9 455.0,136.8 451.4,137.8 C447.9,138.7 444.4,139.9 441.2,141.2 C437.9,142.5 434.9,143.9 432.1,145.4 C429.2,146.9 426.6,148.5 424.2,150.2 C421.8,151.9 419.7,153.7 417.8,155.6 C415.8,157.4 414.2,159.3 412.7,161.3 C411.3,163.2 410.0,165.2 409.1,167.2 C408.1,169.2 407.3,171.2 406.8,173.3 C406.2,175.3 405.9,177.4 405.8,179.4 C405.7,181.5 405.8,183.6 406.2,185.6 C406.5,187.7 407.1,189.7 407.8,191.7 C408.6,193.8 409.6,195.8 410.9,197.7 C412.1,199.7 413.5,201.7 415.2,203.5 C416.9,205.4 418.8,207.3 421.0,209.0 C423.1,210.8 425.5,212.5 428.1,214.1 C430.7,215.7 433.5,217.3 436.5,218.7 C439.5,220.1 444.5,221.9 446.1,222.5" fill="none" stroke="#2a56e0" stroke-width="0.7" opacity="0.49"/>
    <path d="M555.1,152.9 C554.0,152.2 550.7,149.9 548.3,148.5 C545.9,147.0 543.3,145.7 540.6,144.4 C537.9,143.1 535.1,141.9 532.2,140.8 C529.2,139.7 526.1,138.6 523.0,137.7 C519.8,136.8 516.5,135.9 513.1,135.2 C509.7,134.5 506.2,133.8 502.7,133.3 C499.1,132.8 495.5,132.4 491.8,132.1 C488.1,131.9 484.4,131.8 480.6,131.8 C476.9,131.8 473.1,131.9 469.3,132.2 C465.6,132.5 461.8,132.9 458.2,133.5 C454.5,134.1 450.9,134.8 447.4,135.6 C444.0,136.5 440.5,137.5 437.3,138.6 C434.1,139.8 431.0,141.0 428.1,142.4 C425.2,143.8 422.4,145.3 419.9,146.9 C417.4,148.4 415.1,150.2 413.1,151.9 C411.0,153.7 409.2,155.5 407.6,157.4 C406.1,159.3 404.7,161.3 403.7,163.3 C402.6,165.3 401.8,167.3 401.2,169.3 C400.7,171.3 400.4,173.4 400.3,175.4 C400.2,177.4 400.4,179.5 400.7,181.5 C401.1,183.5 401.7,185.5 402.5,187.4 C403.3,189.3 404.4,191.3 405.6,193.1 C406.8,195.0 408.2,196.8 409.7,198.6 C411.3,200.3 413.0,202.0 414.9,203.7 C416.8,205.3 418.8,206.9 421.0,208.5 C423.2,210.0 426.8,212.1 428.0,212.9" fill="none" stroke="#2040c0" stroke-width="0.7" opacity="0.44"/>
    <path d="M577.4,164.6 C576.5,163.4 574.2,159.8 572.1,157.6 C570.0,155.3 567.4,153.1 564.7,151.1 C561.9,149.1 558.8,147.2 555.5,145.5 C552.2,143.8 548.5,142.2 544.8,140.8 C541.1,139.4 537.1,138.2 533.1,137.1 C529.1,136.0 524.9,135.1 520.6,134.4 C516.4,133.7 512.1,133.2 507.8,132.8 C503.5,132.4 499.1,132.2 494.8,132.1 C490.4,132.1 486.1,132.1 481.8,132.4 C477.5,132.6 473.3,133.0 469.1,133.5 C464.9,134.1 460.7,134.7 456.7,135.5 C452.7,136.4 448.7,137.3 444.9,138.4 C441.0,139.5 437.3,140.7 433.7,142.1 C430.1,143.5 426.7,145.0 423.4,146.6 C420.2,148.3 417.1,150.0 414.3,151.9 C411.5,153.8 408.9,155.9 406.6,158.0 C404.4,160.2 402.3,162.4 400.7,164.7 C399.1,167.1 397.7,169.5 396.8,172.0 C395.8,174.4 395.2,177.0 395.0,179.5 C394.9,182.0 395.1,184.6 395.7,187.1 C396.3,189.7 397.3,192.2 398.7,194.6 C400.1,197.0 401.8,199.4 404.0,201.7 C406.1,203.9 408.6,206.1 411.3,208.1 C414.1,210.2 417.2,212.1 420.5,213.8 C423.8,215.5 427.4,217.1 431.1,218.5 C434.8,219.9 440.9,221.6 442.8,222.2" fill="none" stroke="#3050e0" stroke-width="0.8" opacity="0.43"/>
    <path d="M574.2,163.1 C573.6,162.0 571.9,158.8 570.3,156.7 C568.8,154.6 566.9,152.5 564.8,150.5 C562.7,148.5 560.3,146.6 557.7,144.7 C555.1,142.9 552.2,141.2 549.1,139.6 C546.0,138.0 542.7,136.5 539.2,135.1 C535.6,133.8 531.9,132.6 528.0,131.5 C524.1,130.5 520.1,129.6 515.9,128.9 C511.8,128.2 507.5,127.7 503.3,127.4 C499.0,127.1 494.6,126.9 490.3,127.0 C486.0,127.0 481.7,127.2 477.5,127.6 C473.2,128.0 469.0,128.6 465.0,129.3 C461.0,130.1 457.0,131.0 453.2,132.0 C449.5,133.0 445.8,134.2 442.4,135.5 C439.0,136.8 435.7,138.3 432.6,139.8 C429.6,141.3 426.7,143.0 424.1,144.7 C421.4,146.4 419.0,148.2 416.8,150.1 C414.6,151.9 412.6,153.9 410.8,155.8 C409.0,157.8 407.4,159.9 406.1,161.9 C404.7,164.0 403.6,166.1 402.7,168.2 C401.8,170.4 401.1,172.5 400.6,174.7 C400.2,176.9 399.9,179.1 399.9,181.3 C399.9,183.5 400.1,185.7 400.6,187.9 C401.1,190.2 401.8,192.4 402.8,194.6 C403.8,196.7 405.0,198.9 406.5,201.0 C408.0,203.1 409.8,205.2 411.8,207.2 C413.9,209.2 417.6,212.1 418.7,213.0" fill="none" stroke="#2040c0" stroke-width="0.6" opacity="0.27"/>
    <path d="M584.1,162.3 C583.3,161.2 581.4,157.5 579.6,155.3 C577.8,153.0 575.6,150.7 573.2,148.6 C570.7,146.5 567.9,144.5 564.9,142.6 C561.8,140.7 558.5,139.0 554.9,137.4 C551.4,135.8 547.6,134.4 543.7,133.1 C539.8,131.9 535.7,130.8 531.5,129.9 C527.3,129.0 523.0,128.3 518.6,127.7 C514.3,127.2 509.8,126.8 505.4,126.6 C501.1,126.4 496.6,126.3 492.3,126.5 C487.9,126.6 483.5,126.9 479.3,127.3 C475.0,127.7 470.8,128.3 466.8,129.0 C462.7,129.7 458.7,130.6 454.8,131.5 C451.0,132.5 447.2,133.6 443.6,134.8 C439.9,136.0 436.4,137.3 433.1,138.7 C429.8,140.2 426.6,141.7 423.5,143.3 C420.5,144.9 417.6,146.7 415.0,148.5 C412.3,150.3 409.8,152.2 407.5,154.2 C405.3,156.3 403.2,158.4 401.4,160.5 C399.6,162.7 398.0,164.9 396.7,167.3 C395.5,169.6 394.5,171.9 393.8,174.3 C393.1,176.7 392.7,179.2 392.7,181.7 C392.6,184.1 392.9,186.6 393.5,189.1 C394.2,191.5 395.2,194.0 396.5,196.4 C397.8,198.7 399.5,201.1 401.5,203.4 C403.5,205.6 405.8,207.8 408.4,209.8 C411.1,211.9 415.7,214.7 417.2,215.6" fill="none" stroke="#2446d0" stroke-width="0.6" opacity="0.27"/>
    <path d="M571.1,148.7 C569.9,147.7 566.6,144.8 564.1,143.0 C561.6,141.2 558.9,139.4 556.0,137.8 C553.1,136.1 550.0,134.5 546.7,133.1 C543.4,131.6 539.9,130.2 536.3,129.0 C532.6,127.8 528.8,126.7 524.8,125.7 C520.9,124.7 516.8,123.9 512.6,123.2 C508.4,122.6 504.1,122.1 499.8,121.7 C495.4,121.4 491.0,121.2 486.6,121.3 C482.2,121.3 477.7,121.5 473.4,121.8 C469.0,122.2 464.6,122.8 460.4,123.5 C456.2,124.2 452.0,125.1 448.1,126.2 C444.1,127.2 440.2,128.4 436.6,129.8 C433.0,131.1 429.5,132.7 426.3,134.3 C423.0,135.9 420.0,137.7 417.3,139.5 C414.5,141.3 412.0,143.3 409.7,145.3 C407.5,147.3 405.5,149.4 403.7,151.6 C402.0,153.7 400.5,155.9 399.3,158.1 C398.1,160.3 397.1,162.6 396.4,164.8 C395.7,167.1 395.2,169.4 395.0,171.6 C394.8,173.9 394.8,176.2 395.0,178.4 C395.2,180.7 395.7,182.9 396.4,185.2 C397.1,187.4 398.0,189.6 399.1,191.7 C400.2,193.9 401.5,196.0 403.0,198.1 C404.6,200.2 406.3,202.2 408.2,204.2 C410.2,206.2 412.3,208.1 414.7,210.0 C417.0,211.9 421.1,214.5 422.3,215.4" fill="none" stroke="#2a56e0" stroke-width="0.7" opacity="0.26"/>
    <path d="M594.1,159.0 C593.2,157.8 590.7,153.9 588.5,151.4 C586.3,149.0 583.6,146.7 580.7,144.5 C577.9,142.3 574.6,140.2 571.1,138.3 C567.7,136.4 563.9,134.6 560.0,133.0 C556.1,131.4 551.9,130.0 547.7,128.8 C543.4,127.5 539.0,126.5 534.5,125.6 C530.0,124.7 525.4,123.9 520.8,123.4 C516.2,122.8 511.5,122.5 506.9,122.2 C502.2,122.0 497.5,122.0 492.9,122.1 C488.3,122.1 483.7,122.4 479.1,122.8 C474.6,123.2 470.1,123.7 465.6,124.4 C461.2,125.1 456.8,125.9 452.6,126.9 C448.3,127.8 444.2,128.9 440.1,130.2 C436.1,131.4 432.2,132.8 428.4,134.3 C424.7,135.8 421.0,137.4 417.6,139.2 C414.2,141.0 410.9,142.9 407.9,144.9 C404.9,146.9 402.1,149.1 399.7,151.3 C397.2,153.6 394.9,156.0 393.1,158.4 C391.2,160.8 389.6,163.4 388.4,166.0 C387.2,168.6 386.3,171.3 385.8,174.0 C385.3,176.7 385.2,179.4 385.5,182.1 C385.8,184.8 386.5,187.6 387.6,190.2 C388.7,192.9 390.2,195.5 392.1,198.0 C393.9,200.6 396.2,203.0 398.7,205.4 C401.3,207.7 404.2,209.9 407.4,212.0 C410.5,214.0 416.0,216.8 417.7,217.7" fill="none" stroke="#2a56e0" stroke-width="0.8" opacity="0.24"/>
    <path d="M587.9,145.3 C586.4,144.2 582.3,140.6 579.1,138.4 C575.8,136.3 572.2,134.3 568.4,132.4 C564.6,130.6 560.5,128.9 556.2,127.5 C551.9,126.0 547.4,124.7 542.9,123.6 C538.3,122.5 533.5,121.6 528.7,120.9 C524.0,120.2 519.1,119.6 514.2,119.3 C509.4,119.0 504.4,118.8 499.6,118.8 C494.8,118.9 489.9,119.1 485.2,119.4 C480.4,119.8 475.7,120.3 471.1,121.0 C466.5,121.7 462.0,122.5 457.6,123.5 C453.2,124.4 448.9,125.5 444.7,126.8 C440.6,128.0 436.6,129.4 432.7,130.9 C428.8,132.3 425.1,134.0 421.6,135.7 C418.1,137.4 414.7,139.3 411.5,141.3 C408.4,143.2 405.4,145.3 402.7,147.5 C400.0,149.7 397.5,152.0 395.4,154.4 C393.2,156.8 391.3,159.3 389.7,161.9 C388.2,164.4 386.9,167.1 386.0,169.8 C385.1,172.5 384.5,175.2 384.4,178.0 C384.2,180.7 384.4,183.5 385.1,186.3 C385.7,189.0 386.7,191.8 388.1,194.5 C389.5,197.2 391.3,199.8 393.5,202.3 C395.6,204.9 398.2,207.3 401.1,209.6 C403.9,212.0 407.2,214.2 410.7,216.2 C414.2,218.2 418.0,220.1 422.0,221.8 C426.0,223.5 432.6,225.6 434.7,226.3" fill="none" stroke="#1c70a8" stroke-width="0.6" opacity="0.34"/>
    <path d="M580.4,142.6 C578.9,141.5 574.5,138.1 571.2,136.1 C567.9,134.0 564.3,132.1 560.6,130.2 C556.8,128.4 552.8,126.7 548.7,125.1 C544.5,123.5 540.1,122.1 535.5,120.8 C531.0,119.5 526.2,118.4 521.3,117.5 C516.4,116.6 511.3,115.8 506.2,115.3 C501.1,114.7 495.8,114.4 490.5,114.2 C485.2,114.1 479.8,114.2 474.5,114.5 C469.2,114.9 463.9,115.4 458.7,116.2 C453.6,117.0 448.5,118.1 443.6,119.3 C438.7,120.5 433.9,122.0 429.5,123.7 C425.0,125.4 420.8,127.3 416.9,129.3 C413.0,131.3 409.4,133.6 406.1,135.9 C402.9,138.3 400.0,140.8 397.5,143.4 C395.0,146.0 392.9,148.7 391.2,151.4 C389.5,154.2 388.2,157.0 387.2,159.8 C386.3,162.7 385.7,165.5 385.5,168.4 C385.4,171.2 385.5,174.1 386.1,176.9 C386.6,179.6 387.4,182.4 388.6,185.1 C389.8,187.8 391.3,190.5 393.0,193.1 C394.8,195.7 396.8,198.2 399.1,200.6 C401.4,203.1 404.0,205.4 406.8,207.7 C409.6,209.9 412.7,212.1 416.0,214.2 C419.3,216.3 422.8,218.2 426.6,220.1 C430.3,221.9 434.3,223.6 438.4,225.2 C442.6,226.8 449.3,228.8 451.5,229.6" fill="none" stroke="#2446d0" stroke-width="0.7" opacity="0.51"/>
    <path d="M605.7,168.9 C605.0,167.4 603.4,162.9 601.6,160.1 C599.9,157.2 597.8,154.4 595.3,151.8 C592.9,149.1 590.2,146.5 587.1,144.1 C584.1,141.6 580.8,139.3 577.3,137.1 C573.7,134.9 569.9,132.8 565.9,130.9 C561.9,129.0 557.7,127.2 553.3,125.5 C548.9,123.9 544.3,122.4 539.5,121.0 C534.7,119.7 529.8,118.5 524.7,117.5 C519.6,116.6 514.3,115.7 509.0,115.1 C503.6,114.5 498.1,114.1 492.6,113.9 C487.1,113.7 481.5,113.7 475.9,114.0 C470.4,114.3 464.8,114.8 459.3,115.5 C453.8,116.3 448.4,117.3 443.1,118.5 C437.9,119.7 432.8,121.2 428.0,122.9 C423.2,124.6 418.5,126.6 414.3,128.7 C410.1,130.8 406.1,133.2 402.6,135.7 C399.1,138.2 396.0,140.9 393.3,143.7 C390.6,146.5 388.4,149.4 386.6,152.4 C384.8,155.4 383.5,158.5 382.6,161.5 C381.8,164.6 381.4,167.8 381.5,170.8 C381.5,173.9 382.1,177.0 383.0,180.0 C383.9,183.0 385.2,186.0 386.9,188.9 C388.6,191.7 390.7,194.6 393.1,197.2 C395.4,199.9 398.2,202.5 401.1,205.0 C404.1,207.4 407.4,209.8 410.9,212.0 C414.4,214.2 420.3,217.2 422.1,218.2" fill="none" stroke="#3050e0" stroke-width="0.8" opacity="0.36"/>
    <path d="M596.3,142.3 C594.6,141.1 589.9,137.5 586.3,135.3 C582.7,133.1 578.7,131.1 574.7,129.2 C570.6,127.4 566.2,125.7 561.8,124.2 C557.3,122.6 552.7,121.3 548.0,120.1 C543.3,118.9 538.4,117.9 533.5,117.0 C528.6,116.2 523.5,115.5 518.5,114.9 C513.5,114.4 508.4,114.0 503.3,113.8 C498.2,113.6 493.0,113.6 487.9,113.7 C482.8,113.8 477.6,114.1 472.5,114.6 C467.5,115.1 462.4,115.7 457.4,116.5 C452.4,117.3 447.5,118.3 442.7,119.4 C437.9,120.6 433.1,121.9 428.6,123.4 C424.1,125.0 419.7,126.7 415.5,128.5 C411.4,130.4 407.4,132.4 403.8,134.6 C400.1,136.8 396.7,139.2 393.7,141.7 C390.7,144.2 387.9,146.8 385.6,149.6 C383.3,152.3 381.4,155.2 379.9,158.1 C378.4,161.0 377.3,164.0 376.7,167.0 C376.1,170.1 375.9,173.1 376.1,176.2 C376.4,179.2 377.1,182.2 378.2,185.2 C379.4,188.1 381.0,191.1 382.9,193.9 C384.9,196.7 387.2,199.4 389.9,202.0 C392.6,204.6 395.7,207.1 399.0,209.4 C402.3,211.8 406.0,214.0 409.9,216.0 C413.7,218.0 417.9,219.9 422.1,221.6 C426.4,223.3 433.3,225.4 435.5,226.1" fill="none" stroke="#2446d0" stroke-width="0.7" opacity="0.22"/>
    <path d="M592.8,141.1 C591.3,139.9 587.3,135.9 584.1,133.5 C580.9,131.0 577.3,128.7 573.5,126.5 C569.7,124.2 565.5,122.1 561.1,120.2 C556.7,118.3 551.9,116.5 547.0,115.0 C542.1,113.5 536.8,112.1 531.5,111.0 C526.1,109.9 520.5,108.9 514.9,108.3 C509.2,107.7 503.4,107.3 497.6,107.1 C491.8,107.0 485.9,107.1 480.1,107.5 C474.4,107.9 468.6,108.6 463.0,109.5 C457.5,110.4 452.0,111.6 446.8,113.0 C441.6,114.4 436.5,116.1 431.8,117.9 C427.2,119.7 422.7,121.8 418.6,124.0 C414.5,126.2 410.8,128.5 407.4,131.0 C404.0,133.5 400.9,136.1 398.3,138.8 C395.6,141.5 393.3,144.3 391.4,147.2 C389.4,150.0 387.9,152.9 386.6,155.9 C385.4,158.8 384.6,161.8 384.0,164.7 C383.5,167.7 383.3,170.7 383.5,173.6 C383.6,176.6 384.1,179.5 384.9,182.5 C385.7,185.4 386.8,188.3 388.2,191.1 C389.7,194.0 391.4,196.8 393.5,199.5 C395.5,202.3 397.9,205.0 400.6,207.6 C403.3,210.2 406.3,212.7 409.7,215.1 C413.0,217.6 416.7,219.9 420.6,222.0 C424.6,224.2 428.8,226.2 433.4,228.1 C437.9,229.9 445.3,232.3 447.7,233.1" fill="none" stroke="#2040c0" stroke-width="0.7" opacity="0.38"/>
    <path d="M589.4,130.9 C587.6,130.0 582.2,127.0 578.4,125.3 C574.5,123.6 570.5,122.0 566.4,120.5 C562.2,119.0 557.9,117.7 553.5,116.5 C549.2,115.3 544.7,114.2 540.1,113.3 C535.5,112.4 530.8,111.6 526.1,110.9 C521.4,110.3 516.6,109.7 511.8,109.3 C507.0,109.0 502.1,108.7 497.2,108.6 C492.3,108.5 487.4,108.5 482.5,108.7 C477.5,108.9 472.6,109.2 467.7,109.7 C462.8,110.2 458.0,110.9 453.2,111.7 C448.4,112.5 443.6,113.5 439.0,114.6 C434.4,115.8 429.8,117.1 425.5,118.6 C421.1,120.0 416.9,121.7 412.9,123.5 C408.9,125.2 405.0,127.2 401.5,129.3 C397.9,131.4 394.6,133.6 391.6,136.0 C388.6,138.3 385.9,140.8 383.5,143.4 C381.1,145.9 379.1,148.6 377.4,151.4 C375.7,154.1 374.4,156.9 373.5,159.8 C372.5,162.6 372.0,165.5 371.8,168.4 C371.6,171.3 371.8,174.2 372.4,177.0 C372.9,179.9 373.9,182.7 375.2,185.5 C376.4,188.2 378.1,191.0 380.0,193.6 C382.0,196.2 384.3,198.8 386.8,201.2 C389.3,203.7 392.2,206.0 395.2,208.2 C398.3,210.4 401.6,212.6 405.1,214.5 C408.6,216.5 414.3,219.2 416.1,220.1" fill="none" stroke="#3050e0" stroke-width="0.6" opacity="0.30"/>
    <path d="M610.8,142.5 C609.6,141.1 606.5,136.9 603.8,134.2 C601.1,131.6 598.1,129.0 594.7,126.5 C591.3,124.1 587.6,121.8 583.5,119.6 C579.5,117.5 575.2,115.5 570.6,113.7 C566.0,111.9 561.1,110.2 556.1,108.8 C551.1,107.4 545.8,106.2 540.5,105.2 C535.1,104.3 529.6,103.5 524.0,103.0 C518.5,102.5 512.8,102.2 507.2,102.1 C501.6,102.0 496.0,102.2 490.5,102.6 C485.0,103.0 479.5,103.6 474.2,104.3 C468.8,105.1 463.6,106.2 458.6,107.3 C453.5,108.5 448.7,109.9 444.0,111.4 C439.3,112.9 434.9,114.5 430.6,116.3 C426.4,118.1 422.4,120.1 418.6,122.1 C414.8,124.1 411.3,126.3 408.0,128.6 C404.7,130.8 401.6,133.2 398.8,135.6 C396.0,138.0 393.5,140.5 391.2,143.1 C388.9,145.7 386.9,148.3 385.1,151.0 C383.3,153.7 381.8,156.5 380.6,159.3 C379.4,162.1 378.5,164.9 377.9,167.8 C377.2,170.7 376.9,173.6 376.9,176.5 C376.9,179.5 377.2,182.4 377.9,185.4 C378.6,188.3 379.5,191.2 380.9,194.1 C382.3,197.0 384.0,199.9 386.1,202.7 C388.1,205.5 390.6,208.2 393.4,210.8 C396.2,213.5 401.2,217.2 402.8,218.4" fill="none" stroke="#2a56e0" stroke-width="0.8" opacity="0.31"/>
    <path d="M626.4,155.7 C625.3,154.0 622.3,148.8 619.5,145.6 C616.8,142.3 613.5,139.2 609.9,136.3 C606.2,133.4 602.1,130.6 597.8,128.1 C593.5,125.5 588.7,123.1 583.8,121.0 C578.9,118.8 573.7,116.9 568.3,115.2 C563.0,113.4 557.4,111.9 551.7,110.6 C546.0,109.2 540.2,108.1 534.3,107.2 C528.3,106.3 522.3,105.6 516.3,105.1 C510.2,104.6 504.0,104.3 497.9,104.3 C491.8,104.2 485.6,104.3 479.4,104.7 C473.3,105.1 467.1,105.7 461.0,106.5 C455.0,107.3 448.9,108.4 443.1,109.7 C437.2,111.0 431.4,112.5 426.0,114.3 C420.5,116.1 415.1,118.1 410.1,120.4 C405.1,122.6 400.4,125.1 396.1,127.8 C391.8,130.5 387.8,133.4 384.3,136.5 C380.9,139.6 377.8,142.8 375.3,146.2 C372.9,149.5 370.9,153.1 369.5,156.6 C368.1,160.2 367.3,163.8 367.1,167.5 C366.8,171.1 367.2,174.8 368.1,178.4 C369.0,181.9 370.5,185.5 372.4,188.9 C374.4,192.4 376.9,195.7 379.9,198.9 C382.8,202.1 386.3,205.1 390.0,208.0 C393.8,210.8 398.0,213.5 402.5,216.0 C406.9,218.5 411.8,220.8 416.8,222.8 C421.8,224.9 429.9,227.5 432.5,228.4" fill="none" stroke="#2446d0" stroke-width="0.6" opacity="0.38"/>
    <path d="M610.2,135.1 C608.5,134.0 603.6,130.3 599.9,128.0 C596.3,125.8 592.4,123.7 588.3,121.7 C584.2,119.7 580.0,117.9 575.5,116.2 C571.1,114.5 566.5,113.0 561.8,111.6 C557.1,110.1 552.3,108.9 547.3,107.8 C542.4,106.6 537.3,105.7 532.1,104.8 C527.0,104.0 521.7,103.3 516.4,102.8 C511.1,102.3 505.7,102.0 500.3,101.8 C494.9,101.6 489.5,101.6 484.0,101.7 C478.5,101.9 473.0,102.2 467.6,102.8 C462.2,103.3 456.7,104.0 451.4,104.9 C446.1,105.8 440.8,107.0 435.7,108.3 C430.6,109.6 425.6,111.1 420.8,112.7 C416.0,114.4 411.4,116.3 407.0,118.4 C402.7,120.4 398.6,122.7 394.8,125.1 C391.0,127.4 387.5,130.0 384.4,132.7 C381.3,135.3 378.6,138.2 376.2,141.1 C373.9,144.0 371.9,147.0 370.4,150.1 C368.8,153.1 367.7,156.3 367.0,159.4 C366.3,162.5 366.0,165.7 366.2,168.9 C366.3,172.0 366.9,175.2 367.8,178.3 C368.8,181.4 370.2,184.4 371.9,187.4 C373.6,190.3 375.7,193.2 378.1,196.0 C380.5,198.8 383.2,201.5 386.2,204.0 C389.2,206.6 392.5,209.1 396.0,211.4 C399.5,213.7 405.4,216.8 407.3,217.9" fill="none" stroke="#1c70a8" stroke-width="0.8" opacity="0.52"/>
    <path d="M623.6,137.0 C621.9,135.6 617.2,131.3 613.4,128.6 C609.7,126.0 605.6,123.5 601.3,121.2 C597.0,118.9 592.3,116.8 587.5,114.8 C582.7,112.9 577.7,111.2 572.5,109.6 C567.4,108.0 562.0,106.6 556.6,105.5 C551.2,104.3 545.6,103.3 540.0,102.4 C534.5,101.6 528.8,101.0 523.1,100.5 C517.4,100.0 511.6,99.7 505.9,99.6 C500.1,99.5 494.4,99.6 488.6,99.8 C482.9,100.1 477.2,100.5 471.5,101.1 C465.8,101.7 460.2,102.5 454.6,103.5 C449.1,104.5 443.6,105.6 438.3,106.9 C433.0,108.3 427.7,109.8 422.7,111.5 C417.6,113.3 412.7,115.2 408.1,117.3 C403.5,119.3 399.1,121.6 395.0,124.1 C390.9,126.5 387.0,129.1 383.6,131.9 C380.1,134.7 377.0,137.6 374.3,140.6 C371.6,143.7 369.3,146.8 367.4,150.1 C365.6,153.3 364.2,156.7 363.3,160.0 C362.3,163.4 361.9,166.8 361.9,170.2 C362.0,173.6 362.5,177.1 363.5,180.4 C364.5,183.8 366.0,187.1 367.9,190.4 C369.8,193.6 372.2,196.7 375.0,199.8 C377.7,202.8 380.9,205.7 384.4,208.4 C387.9,211.1 391.8,213.7 396.0,216.2 C400.1,218.6 407.0,221.8 409.2,222.9" fill="none" stroke="#2446d0" stroke-width="0.7" opacity="0.41"/>
    <path d="M615.5,135.2 C614.0,133.8 610.0,129.7 606.8,127.0 C603.6,124.4 600.1,121.9 596.4,119.5 C592.7,117.0 588.6,114.7 584.3,112.5 C580.1,110.4 575.5,108.3 570.7,106.4 C565.9,104.5 560.8,102.8 555.6,101.2 C550.3,99.7 544.8,98.3 539.1,97.2 C533.5,96.1 527.6,95.1 521.7,94.4 C515.8,93.7 509.7,93.2 503.6,93.0 C497.5,92.8 491.3,92.8 485.2,93.1 C479.1,93.4 472.9,93.9 466.9,94.7 C460.9,95.5 455.0,96.5 449.3,97.8 C443.6,99.0 438.0,100.6 432.7,102.3 C427.4,104.0 422.4,106.0 417.6,108.1 C412.9,110.2 408.4,112.6 404.3,115.0 C400.2,117.5 396.5,120.1 393.1,122.9 C389.7,125.6 386.7,128.5 384.0,131.5 C381.4,134.4 379.1,137.5 377.3,140.5 C375.4,143.6 373.9,146.8 372.7,149.9 C371.6,153.1 370.8,156.3 370.4,159.4 C370.0,162.6 369.9,165.8 370.2,168.9 C370.4,172.1 371.0,175.2 371.9,178.3 C372.8,181.4 374.1,184.5 375.6,187.5 C377.1,190.5 378.9,193.5 381.0,196.4 C383.1,199.3 385.5,202.2 388.2,204.9 C390.9,207.7 393.9,210.4 397.2,213.0 C400.4,215.6 406.0,219.2 407.8,220.5" fill="none" stroke="#2446d0" stroke-width="0.6" opacity="0.47"/>
    <path d="M626.9,139.6 C625.6,137.9 622.0,132.6 618.9,129.3 C615.7,125.9 612.1,122.7 608.1,119.6 C604.0,116.5 599.5,113.5 594.6,110.8 C589.7,108.1 584.3,105.5 578.6,103.2 C572.9,101.0 566.7,98.9 560.3,97.1 C554.0,95.4 547.2,93.9 540.4,92.8 C533.6,91.7 526.5,90.9 519.4,90.4 C512.3,89.9 505.0,89.8 497.9,90.0 C490.7,90.2 483.6,90.8 476.6,91.6 C469.7,92.5 462.8,93.7 456.3,95.1 C449.8,96.6 443.4,98.4 437.4,100.4 C431.5,102.4 425.8,104.7 420.5,107.2 C415.3,109.7 410.3,112.4 405.9,115.2 C401.4,118.0 397.3,121.1 393.6,124.2 C389.9,127.3 386.7,130.6 383.8,133.9 C381.0,137.2 378.6,140.7 376.6,144.1 C374.5,147.6 372.9,151.2 371.7,154.7 C370.6,158.3 369.8,161.9 369.4,165.6 C369.0,169.2 369.1,172.8 369.5,176.5 C370.0,180.1 370.9,183.8 372.2,187.4 C373.6,191.0 375.3,194.6 377.5,198.1 C379.8,201.6 382.5,205.1 385.6,208.4 C388.8,211.7 392.4,215.0 396.4,218.1 C400.5,221.1 405.0,224.1 410.0,226.8 C414.9,229.5 420.3,232.1 426.0,234.4 C431.7,236.6 441.2,239.4 444.3,240.4" fill="none" stroke="#1c70a8" stroke-width="0.7" opacity="0.38"/>
    <path d="M619.7,119.0 C617.5,117.7 611.0,113.6 606.2,111.2 C601.4,108.8 596.2,106.6 590.8,104.7 C585.4,102.7 579.7,101.0 574.0,99.5 C568.2,98.0 562.2,96.7 556.1,95.7 C550.1,94.6 543.9,93.8 537.7,93.2 C531.5,92.7 525.3,92.3 519.1,92.2 C512.9,92.0 506.7,92.1 500.5,92.4 C494.4,92.6 488.3,93.1 482.3,93.7 C476.3,94.4 470.4,95.3 464.6,96.3 C458.9,97.3 453.2,98.5 447.7,99.9 C442.1,101.2 436.7,102.8 431.5,104.4 C426.3,106.1 421.2,108.0 416.4,110.0 C411.5,112.0 406.8,114.2 402.4,116.5 C398.0,118.9 393.8,121.4 389.8,124.0 C385.9,126.6 382.2,129.4 378.9,132.3 C375.6,135.2 372.6,138.3 370.0,141.4 C367.3,144.6 365.1,147.9 363.2,151.2 C361.4,154.6 360.0,158.0 359.0,161.5 C358.1,165.0 357.5,168.6 357.5,172.2 C357.5,175.7 358.0,179.3 359.0,182.8 C359.9,186.4 361.4,189.9 363.3,193.3 C365.3,196.8 367.7,200.2 370.6,203.4 C373.5,206.6 376.9,209.7 380.6,212.7 C384.3,215.6 388.5,218.4 393.0,221.0 C397.5,223.6 402.4,226.0 407.5,228.2 C412.6,230.3 421.0,233.1 423.7,234.1" fill="none" stroke="#2a56e0" stroke-width="0.6" opacity="0.19"/>
    <path d="M633.8,133.8 C632.0,132.2 626.8,127.2 622.8,124.1 C618.8,121.0 614.5,118.0 609.8,115.2 C605.2,112.5 600.2,109.8 595.0,107.4 C589.7,104.9 584.2,102.6 578.4,100.5 C572.6,98.4 566.6,96.5 560.3,94.8 C554.1,93.1 547.5,91.7 540.9,90.4 C534.2,89.2 527.3,88.2 520.3,87.5 C513.3,86.8 506.1,86.3 498.9,86.1 C491.7,86.0 484.4,86.1 477.1,86.6 C469.9,87.0 462.6,87.8 455.5,88.9 C448.5,89.9 441.4,91.3 434.7,93.0 C428.0,94.7 421.4,96.8 415.3,99.1 C409.2,101.4 403.3,104.0 398.0,106.8 C392.7,109.7 387.7,112.8 383.3,116.1 C378.9,119.4 375.0,122.9 371.6,126.5 C368.3,130.2 365.5,134.0 363.3,137.8 C361.2,141.7 359.6,145.7 358.5,149.6 C357.5,153.6 357.1,157.6 357.2,161.6 C357.3,165.6 357.9,169.5 359.1,173.4 C360.2,177.3 361.9,181.1 364.0,184.8 C366.1,188.5 368.7,192.1 371.6,195.6 C374.6,199.1 378.0,202.4 381.7,205.7 C385.4,208.9 389.5,211.9 393.9,214.9 C398.3,217.8 403.0,220.6 408.0,223.2 C413.0,225.8 418.3,228.2 423.9,230.4 C429.4,232.7 438.4,235.6 441.3,236.6" fill="none" stroke="#2446d0" stroke-width="0.8" opacity="0.29"/>
    <path d="M633.0,130.9 C631.5,129.3 627.4,124.4 624.0,121.3 C620.6,118.2 616.8,115.1 612.7,112.3 C608.5,109.4 604.0,106.6 599.2,104.0 C594.3,101.5 589.1,99.0 583.6,96.8 C578.1,94.6 572.2,92.6 566.1,90.9 C560.0,89.1 553.6,87.6 547.1,86.3 C540.5,85.1 533.7,84.1 526.9,83.4 C520.0,82.7 513.0,82.3 506.0,82.2 C499.0,82.2 491.9,82.4 485.0,82.9 C478.1,83.4 471.1,84.2 464.4,85.3 C457.8,86.4 451.2,87.8 444.9,89.5 C438.6,91.1 432.6,93.1 426.9,95.2 C421.2,97.3 415.7,99.8 410.7,102.3 C405.7,104.9 401.0,107.6 396.7,110.5 C392.5,113.4 388.6,116.5 385.1,119.7 C381.7,122.8 378.6,126.1 376.0,129.5 C373.3,132.8 371.1,136.3 369.2,139.7 C367.4,143.2 366.0,146.7 364.9,150.2 C363.9,153.8 363.2,157.3 362.9,160.9 C362.6,164.4 362.7,168.0 363.2,171.6 C363.6,175.1 364.4,178.6 365.6,182.1 C366.8,185.6 368.4,189.1 370.3,192.5 C372.2,195.9 374.5,199.3 377.2,202.6 C379.8,205.8 382.9,209.1 386.3,212.2 C389.7,215.3 393.5,218.3 397.6,221.2 C401.8,224.0 408.9,228.0 411.2,229.4" fill="none" stroke="#2446d0" stroke-width="0.8" opacity="0.21"/>
    <path d="M625.2,114.3 C623.2,112.9 617.6,108.5 613.3,105.8 C609.0,103.1 604.3,100.5 599.4,98.0 C594.4,95.6 589.1,93.4 583.5,91.4 C578.0,89.3 572.1,87.5 566.0,85.9 C559.9,84.3 553.6,82.9 547.1,81.8 C540.7,80.7 534.0,79.8 527.3,79.2 C520.6,78.7 513.7,78.3 506.9,78.3 C500.1,78.3 493.2,78.5 486.5,79.1 C479.8,79.6 473.0,80.4 466.5,81.4 C460.0,82.5 453.6,83.8 447.5,85.4 C441.4,86.9 435.4,88.7 429.8,90.7 C424.1,92.7 418.8,95.0 413.7,97.4 C408.7,99.8 404.0,102.4 399.6,105.1 C395.2,107.8 391.2,110.7 387.6,113.6 C383.9,116.6 380.6,119.7 377.7,122.9 C374.8,126.0 372.2,129.3 370.0,132.6 C367.8,135.9 365.9,139.2 364.5,142.6 C363.0,146.0 361.8,149.4 361.0,152.9 C360.2,156.3 359.8,159.8 359.7,163.2 C359.5,166.7 359.8,170.1 360.3,173.6 C360.9,177.0 361.8,180.5 363.0,183.9 C364.3,187.2 365.8,190.6 367.8,194.0 C369.7,197.3 372.0,200.6 374.6,203.8 C377.2,207.0 380.2,210.1 383.6,213.2 C386.9,216.2 390.6,219.2 394.6,222.0 C398.7,224.8 405.6,228.7 407.8,230.1" fill="none" stroke="#3050e0" stroke-width="0.7" opacity="0.19"/>
    <path d="M638.5,121.0 C636.7,119.3 631.8,114.2 627.8,111.1 C623.8,107.9 619.3,104.9 614.5,102.0 C609.7,99.2 604.5,96.5 598.9,94.0 C593.3,91.6 587.4,89.3 581.2,87.3 C575.0,85.3 568.4,83.6 561.7,82.1 C555.0,80.7 548.0,79.5 540.9,78.7 C533.9,77.8 526.6,77.3 519.4,77.0 C512.2,76.8 504.9,76.8 497.7,77.2 C490.6,77.5 483.4,78.2 476.4,79.2 C469.5,80.1 462.6,81.4 456.0,82.9 C449.5,84.4 443.1,86.1 437.0,88.1 C431.0,90.1 425.2,92.3 419.7,94.7 C414.3,97.1 409.1,99.7 404.4,102.5 C399.6,105.2 395.2,108.1 391.1,111.2 C387.1,114.2 383.4,117.4 380.1,120.6 C376.8,123.8 373.8,127.2 371.3,130.6 C368.7,134.0 366.5,137.5 364.6,141.0 C362.8,144.6 361.3,148.2 360.2,151.8 C359.1,155.4 358.4,159.1 358.1,162.7 C357.7,166.4 357.7,170.1 358.2,173.8 C358.6,177.5 359.4,181.2 360.6,184.8 C361.9,188.5 363.5,192.1 365.6,195.7 C367.6,199.3 370.1,202.9 373.0,206.3 C375.9,209.7 379.3,213.1 383.0,216.4 C386.8,219.6 391.0,222.7 395.6,225.7 C400.2,228.6 408.1,232.6 410.6,234.0" fill="none" stroke="#1c70a8" stroke-width="0.6" opacity="0.14"/>
    <path d="M669.3,150.0 C668.5,147.9 666.7,141.5 664.5,137.4 C662.3,133.4 659.4,129.3 656.0,125.5 C652.6,121.7 648.5,117.9 644.0,114.5 C639.5,111.0 634.4,107.7 629.0,104.7 C623.6,101.7 617.7,98.9 611.5,96.4 C605.3,93.9 598.7,91.7 592.0,89.8 C585.2,87.9 578.2,86.2 571.1,84.9 C564.0,83.5 556.7,82.5 549.4,81.7 C542.1,80.9 534.7,80.4 527.3,80.2 C520.0,80.0 512.6,80.0 505.3,80.3 C498.1,80.6 490.8,81.1 483.7,81.9 C476.6,82.7 469.6,83.7 462.8,84.9 C455.9,86.1 449.2,87.6 442.7,89.3 C436.1,90.9 429.7,92.8 423.6,94.9 C417.5,97.0 411.5,99.3 405.8,101.8 C400.2,104.3 394.7,107.0 389.7,109.9 C384.6,112.8 379.8,115.9 375.4,119.2 C371.0,122.5 367.0,126.0 363.4,129.6 C359.9,133.2 356.7,137.1 354.2,141.0 C351.6,144.9 349.5,149.0 348.0,153.1 C346.5,157.2 345.6,161.4 345.3,165.7 C345.0,169.9 345.4,174.2 346.3,178.4 C347.3,182.6 348.9,186.9 351.1,191.0 C353.2,195.0 356.1,199.1 359.5,202.9 C362.9,206.8 366.9,210.5 371.4,214.0 C375.8,217.4 383.8,222.1 386.3,223.8" fill="none" stroke="#2a56e0" stroke-width="0.6" opacity="0.33"/>
    <path d="M473.3,82.2 C471.3,82.5 465.0,83.3 460.9,84.0 C456.8,84.7 452.7,85.5 448.8,86.4 C444.8,87.3 440.9,88.3 437.0,89.3 C433.2,90.4 429.5,91.5 425.8,92.8 C422.2,94.0 418.6,95.3 415.1,96.7 C411.7,98.1 408.3,99.6 405.1,101.1 C401.9,102.7 398.7,104.3 395.8,106.0 C392.8,107.7 389.9,109.5 387.2,111.3 C384.5,113.1 381.9,115.0 379.4,116.9 C377.0,118.9 374.7,120.9 372.6,122.9 C370.5,124.9 368.5,127.0 366.7,129.2 C364.9,131.3 363.2,133.5 361.7,135.7 C360.2,137.9 358.9,140.1 357.8,142.4 C356.6,144.7 355.6,147.0 354.8,149.3 C354.1,151.6 353.4,153.9 353.0,156.3 C352.5,158.6 352.3,161.0 352.2,163.3 C352.1,165.7 352.2,168.0 352.5,170.4 C352.7,172.7 353.2,175.1 353.8,177.4 C354.4,179.7 355.2,182.1 356.2,184.4 C357.2,186.6 358.3,188.9 359.7,191.2 C361.0,193.4 362.5,195.6 364.1,197.8 C365.8,200.0 367.6,202.1 369.6,204.2 C371.6,206.3 373.7,208.3 376.0,210.3 C378.3,212.3 382.1,215.1 383.3,216.1" fill="none" stroke="#1d3cb8" stroke-width="0.6" opacity="0.25"/>
    <path d="M512.4,72.2 C509.8,72.2 502.0,72.2 496.8,72.4 C491.6,72.7 486.4,73.0 481.3,73.5 C476.2,74.0 471.0,74.6 466.0,75.4 C461.0,76.2 456.0,77.1 451.2,78.1 C446.3,79.1 441.5,80.2 436.9,81.5 C432.2,82.8 427.6,84.1 423.2,85.6 C418.8,87.1 414.4,88.8 410.3,90.5 C406.1,92.2 402.1,94.0 398.3,96.0 C394.5,97.9 390.8,99.9 387.3,102.1 C383.8,104.2 380.5,106.4 377.4,108.7 C374.3,111.0 371.4,113.4 368.7,115.8 C366.0,118.2 363.5,120.8 361.2,123.3 C359.0,125.9 356.9,128.5 355.1,131.2 C353.3,133.9 351.7,136.6 350.4,139.4 C349.0,142.2 347.9,145.0 347.1,147.8 C346.2,150.6 345.6,153.4 345.2,156.3 C344.8,159.1 344.7,162.0 344.8,164.8 C345.0,167.7 345.3,170.6 345.9,173.4 C346.6,176.2 347.4,179.1 348.5,181.8 C349.6,184.6 351.0,187.4 352.5,190.1 C354.1,192.8 355.9,195.5 358.0,198.2 C360.0,200.8 362.3,203.4 364.8,205.9 C367.3,208.4 370.0,210.8 372.9,213.2 C375.8,215.6 380.6,218.9 382.2,220.1" fill="none" stroke="#1d3cb8" stroke-width="0.6" opacity="0.27"/>
    <path d="M473.4,70.1 C471.0,70.4 463.9,71.4 459.3,72.2 C454.6,73.0 450.0,73.9 445.5,75.0 C441.1,76.0 436.6,77.2 432.3,78.4 C428.0,79.6 423.8,81.0 419.7,82.4 C415.6,83.8 411.6,85.4 407.7,87.0 C403.8,88.6 400.1,90.4 396.5,92.2 C392.9,94.0 389.4,95.8 386.1,97.8 C382.8,99.8 379.6,101.8 376.7,103.9 C373.7,106.0 370.8,108.2 368.2,110.4 C365.5,112.7 363.1,115.0 360.8,117.4 C358.5,119.7 356.4,122.1 354.5,124.6 C352.6,127.0 350.8,129.6 349.3,132.1 C347.8,134.6 346.4,137.2 345.3,139.8 C344.2,142.4 343.3,145.0 342.6,147.7 C341.9,150.3 341.3,153.0 341.0,155.6 C340.7,158.3 340.7,161.0 340.8,163.7 C340.9,166.3 341.2,169.0 341.7,171.7 C342.3,174.3 343.0,177.0 344.0,179.6 C344.9,182.2 346.1,184.8 347.4,187.4 C348.8,189.9 350.3,192.5 352.1,195.0 C353.8,197.5 355.7,199.9 357.9,202.3 C360.0,204.7 362.3,207.1 364.8,209.4 C367.3,211.7 370.0,213.9 372.8,216.1 C375.7,218.3 380.3,221.3 381.9,222.4" fill="none" stroke="#1d3cb8" stroke-width="0.6" opacity="0.12"/>
    <path d="M514.6,63.7 C511.6,63.8 502.7,63.8 496.7,64.1 C490.8,64.4 484.9,64.9 479.0,65.5 C473.2,66.2 467.4,67.0 461.7,67.9 C456.0,68.9 450.4,70.0 444.9,71.3 C439.4,72.5 434.0,74.0 428.7,75.5 C423.5,77.1 418.4,78.8 413.5,80.6 C408.6,82.5 403.8,84.5 399.3,86.6 C394.7,88.7 390.4,91.0 386.2,93.3 C382.1,95.7 378.2,98.2 374.5,100.7 C370.8,103.3 367.4,106.0 364.2,108.7 C361.0,111.5 358.1,114.4 355.5,117.3 C352.8,120.2 350.4,123.2 348.3,126.3 C346.2,129.3 344.4,132.5 342.9,135.6 C341.4,138.8 340.1,142.0 339.2,145.2 C338.3,148.5 337.7,151.7 337.3,155.0 C337.0,158.2 337.0,161.5 337.3,164.8 C337.5,168.1 338.1,171.3 339.0,174.6 C339.9,177.8 341.1,181.0 342.6,184.2 C344.0,187.3 345.8,190.5 347.9,193.5 C349.9,196.6 352.3,199.6 354.9,202.6 C357.5,205.5 360.4,208.4 363.5,211.1 C366.7,213.9 370.1,216.6 373.7,219.2 C377.4,221.8 381.2,224.3 385.3,226.7 C389.4,229.0 396.1,232.3 398.3,233.4" fill="none" stroke="#1d3cb8" stroke-width="0.6" opacity="0.14"/>
    <path d="M523.6,58.0 C520.5,58.0 511.2,57.9 505.0,58.1 C498.8,58.3 492.6,58.6 486.5,59.2 C480.3,59.7 474.2,60.4 468.2,61.3 C462.2,62.2 456.3,63.2 450.5,64.4 C444.7,65.6 438.9,67.0 433.4,68.5 C427.8,70.0 422.4,71.7 417.1,73.5 C411.9,75.3 406.8,77.3 401.9,79.4 C397.0,81.5 392.3,83.8 387.9,86.1 C383.4,88.5 379.1,91.0 375.1,93.6 C371.1,96.2 367.3,98.9 363.8,101.7 C360.3,104.5 357.1,107.5 354.1,110.4 C351.1,113.4 348.4,116.5 346.0,119.7 C343.6,122.8 341.5,126.0 339.7,129.3 C337.9,132.5 336.4,135.9 335.2,139.2 C334.0,142.5 333.1,145.9 332.5,149.3 C332.0,152.7 331.7,156.1 331.8,159.5 C331.8,162.9 332.2,166.4 332.9,169.7 C333.6,173.1 334.6,176.5 335.9,179.8 C337.2,183.2 338.8,186.5 340.8,189.7 C342.7,192.9 344.9,196.1 347.4,199.2 C349.9,202.4 352.7,205.4 355.8,208.4 C358.9,211.3 362.3,214.2 365.9,217.0 C369.5,219.8 373.3,222.4 377.4,225.0 C381.5,227.6 388.3,231.1 390.4,232.3" fill="none" stroke="#1d3cb8" stroke-width="0.6" opacity="0.12"/>
    <path d="M476.2,50.9 C473.6,51.3 465.7,52.3 460.5,53.2 C455.4,54.1 450.3,55.1 445.3,56.2 C440.3,57.3 435.3,58.6 430.5,59.9 C425.7,61.2 420.9,62.7 416.3,64.2 C411.7,65.8 407.2,67.5 402.9,69.2 C398.5,71.0 394.3,72.8 390.2,74.8 C386.1,76.7 382.2,78.8 378.4,80.9 C374.7,83.0 371.1,85.2 367.6,87.5 C364.2,89.8 360.9,92.2 357.8,94.6 C354.8,97.1 351.9,99.6 349.2,102.1 C346.5,104.7 344.0,107.3 341.7,110.0 C339.4,112.7 337.2,115.4 335.4,118.2 C333.5,121.0 331.8,123.8 330.3,126.7 C328.9,129.5 327.6,132.4 326.6,135.3 C325.5,138.2 324.7,141.2 324.2,144.1 C323.6,147.1 323.2,150.0 323.1,153.0 C322.9,156.0 323.0,158.9 323.3,161.9 C323.6,164.9 324.2,167.8 324.9,170.8 C325.7,173.7 326.6,176.6 327.8,179.5 C329.0,182.4 330.4,185.3 332.1,188.1 C333.7,190.9 335.5,193.7 337.6,196.5 C339.6,199.2 341.9,201.9 344.4,204.5 C346.8,207.2 349.5,209.8 352.3,212.3 C355.2,214.8 359.9,218.4 361.4,219.7" fill="none" stroke="#1d3cb8" stroke-width="0.6" opacity="0.25"/>
    <path d="M535.5,42.7 C532.2,42.6 522.2,42.3 515.5,42.4 C508.9,42.5 502.2,42.8 495.6,43.3 C489.1,43.7 482.5,44.4 476.0,45.2 C469.5,46.0 463.1,47.0 456.8,48.1 C450.5,49.3 444.3,50.6 438.2,52.1 C432.1,53.5 426.2,55.2 420.4,57.0 C414.6,58.8 409.0,60.8 403.6,62.9 C398.1,65.0 392.9,67.2 387.9,69.6 C382.8,72.0 378.0,74.5 373.4,77.2 C368.9,79.8 364.5,82.6 360.4,85.5 C356.4,88.3 352.5,91.3 349.0,94.4 C345.4,97.5 342.1,100.7 339.2,103.9 C336.2,107.2 333.5,110.5 331.1,113.9 C328.7,117.3 326.6,120.8 324.9,124.3 C323.1,127.8 321.6,131.4 320.5,135.0 C319.4,138.6 318.6,142.2 318.1,145.9 C317.6,149.5 317.4,153.2 317.6,156.8 C317.7,160.4 318.2,164.1 319.1,167.7 C319.9,171.3 321.0,174.9 322.5,178.5 C323.9,182.0 325.7,185.6 327.8,189.0 C329.9,192.5 332.3,195.9 335.0,199.2 C337.6,202.6 340.6,205.8 343.9,209.0 C347.2,212.2 350.8,215.3 354.6,218.3 C358.4,221.2 364.8,225.4 366.8,226.9" fill="none" stroke="#1d3cb8" stroke-width="0.6" opacity="0.28"/>
    <path d="M523.2,40.2 C519.9,40.3 509.9,40.4 503.4,40.7 C496.8,41.0 490.2,41.5 483.7,42.2 C477.2,42.9 470.8,43.7 464.4,44.7 C458.1,45.7 451.8,46.9 445.7,48.2 C439.5,49.6 433.5,51.1 427.6,52.7 C421.8,54.4 416.0,56.2 410.4,58.2 C404.9,60.1 399.5,62.2 394.3,64.5 C389.1,66.7 384.1,69.1 379.3,71.6 C374.5,74.1 370.0,76.7 365.7,79.5 C361.3,82.2 357.3,85.1 353.4,88.0 C349.6,91.0 346.1,94.1 342.8,97.2 C339.5,100.3 336.5,103.6 333.8,106.9 C331.1,110.2 328.6,113.6 326.5,117.0 C324.4,120.4 322.5,123.9 321.0,127.5 C319.5,131.0 318.3,134.6 317.4,138.1 C316.5,141.7 316.0,145.4 315.7,149.0 C315.4,152.6 315.5,156.2 315.9,159.9 C316.3,163.5 316.9,167.1 318.0,170.7 C319.0,174.2 320.3,177.8 321.9,181.3 C323.5,184.8 325.5,188.3 327.7,191.7 C330.0,195.1 332.5,198.5 335.3,201.8 C338.2,205.0 341.3,208.2 344.7,211.4 C348.0,214.5 351.7,217.5 355.6,220.4 C359.5,223.3 366.0,227.5 368.1,228.9" fill="none" stroke="#1d3cb8" stroke-width="0.6" opacity="0.26"/>
    <path d="M524.2,33.9 C521.0,34.0 511.2,34.1 504.7,34.4 C498.3,34.7 491.8,35.2 485.4,35.8 C479.0,36.5 472.7,37.3 466.4,38.2 C460.2,39.2 454.0,40.3 447.9,41.6 C441.8,42.9 435.8,44.3 430.0,45.9 C424.2,47.4 418.4,49.1 412.9,51.0 C407.3,52.8 401.9,54.8 396.7,57.0 C391.5,59.1 386.4,61.3 381.6,63.7 C376.7,66.1 372.0,68.6 367.6,71.2 C363.2,73.8 358.9,76.5 355.0,79.3 C351.0,82.1 347.2,85.0 343.7,88.0 C340.2,91.0 336.9,94.1 333.9,97.3 C330.9,100.4 328.2,103.7 325.7,107.0 C323.3,110.3 321.1,113.7 319.2,117.1 C317.3,120.5 315.6,123.9 314.3,127.4 C313.0,130.9 311.9,134.4 311.2,138.0 C310.4,141.5 310.0,145.1 309.8,148.6 C309.6,152.2 309.8,155.8 310.2,159.3 C310.6,162.9 311.4,166.4 312.4,170.0 C313.4,173.5 314.7,177.0 316.3,180.4 C317.9,183.9 319.8,187.3 321.9,190.7 C324.1,194.0 326.5,197.3 329.2,200.6 C332.0,203.8 334.9,207.0 338.2,210.1 C341.4,213.2 346.9,217.6 348.6,219.1" fill="none" stroke="#1d3cb8" stroke-width="0.6" opacity="0.13"/>
    <path d="M512.4,27.1 C509.1,27.3 499.1,27.7 492.5,28.3 C486.0,28.9 479.4,29.6 472.9,30.5 C466.5,31.4 460.0,32.4 453.8,33.6 C447.5,34.8 441.2,36.1 435.2,37.6 C429.1,39.1 423.1,40.8 417.3,42.6 C411.5,44.4 405.8,46.3 400.3,48.4 C394.8,50.5 389.5,52.7 384.4,55.0 C379.2,57.3 374.3,59.8 369.5,62.4 C364.8,64.9 360.3,67.6 356.0,70.4 C351.7,73.2 347.6,76.1 343.8,79.1 C339.9,82.1 336.3,85.2 333.0,88.4 C329.7,91.5 326.6,94.8 323.8,98.1 C321.1,101.4 318.5,104.8 316.3,108.3 C314.0,111.7 312.1,115.2 310.4,118.8 C308.7,122.3 307.4,125.9 306.3,129.5 C305.2,133.1 304.4,136.7 303.9,140.4 C303.4,144.0 303.2,147.7 303.3,151.4 C303.4,155.0 303.8,158.7 304.5,162.3 C305.2,165.9 306.2,169.6 307.5,173.2 C308.8,176.7 310.3,180.3 312.2,183.8 C314.1,187.3 316.2,190.8 318.7,194.2 C321.1,197.6 323.8,201.0 326.8,204.2 C329.7,207.5 333.0,210.7 336.5,213.8 C340.0,216.9 345.9,221.4 347.7,222.9" fill="none" stroke="#1d3cb8" stroke-width="0.6" opacity="0.17"/>
    <path d="M488.9,23.5 C485.6,23.9 475.7,24.9 469.2,25.8 C462.8,26.8 456.3,27.9 450.0,29.2 C443.7,30.4 437.5,31.8 431.4,33.4 C425.4,35.0 419.4,36.7 413.6,38.5 C407.8,40.3 402.1,42.3 396.6,44.4 C391.1,46.5 385.8,48.8 380.6,51.2 C375.5,53.5 370.5,56.0 365.8,58.6 C361.1,61.2 356.5,64.0 352.2,66.8 C347.9,69.6 343.8,72.5 340.0,75.5 C336.1,78.6 332.5,81.7 329.2,84.9 C325.8,88.0 322.7,91.3 319.9,94.7 C317.1,98.0 314.5,101.4 312.2,104.9 C309.9,108.3 307.9,111.8 306.2,115.4 C304.5,119.0 303.0,122.6 301.9,126.2 C300.7,129.8 299.8,133.5 299.3,137.1 C298.7,140.8 298.4,144.5 298.4,148.2 C298.4,151.8 298.7,155.5 299.3,159.2 C299.9,162.9 300.8,166.5 302.0,170.1 C303.2,173.8 304.6,177.4 306.4,180.9 C308.1,184.5 310.2,188.0 312.5,191.4 C314.8,194.9 317.4,198.3 320.2,201.6 C323.1,205.0 326.2,208.2 329.6,211.4 C332.9,214.6 336.6,217.7 340.4,220.7 C344.3,223.7 350.7,228.0 352.7,229.4" fill="none" stroke="#1d3cb8" stroke-width="0.6" opacity="0.27"/>
    <path d="M499.7,15.7 C496.1,16.0 485.2,16.9 478.1,17.8 C470.9,18.7 463.9,19.8 456.9,21.0 C450.0,22.3 443.1,23.7 436.4,25.3 C429.7,26.9 423.1,28.7 416.7,30.6 C410.3,32.5 404.0,34.6 397.9,36.8 C391.9,39.1 386.0,41.5 380.3,44.0 C374.6,46.5 369.1,49.2 363.9,52.0 C358.7,54.8 353.7,57.8 349.0,60.8 C344.2,63.9 339.7,67.1 335.5,70.4 C331.3,73.6 327.4,77.0 323.7,80.5 C320.1,84.0 316.8,87.6 313.7,91.2 C310.7,94.9 307.9,98.6 305.5,102.4 C303.1,106.2 301.0,110.0 299.2,113.9 C297.4,117.8 295.9,121.7 294.8,125.7 C293.7,129.7 292.9,133.7 292.4,137.7 C292.0,141.7 291.9,145.7 292.1,149.7 C292.3,153.7 292.8,157.7 293.7,161.7 C294.6,165.7 295.8,169.6 297.3,173.6 C298.9,177.5 300.7,181.4 302.9,185.2 C305.1,189.0 307.6,192.8 310.5,196.5 C313.3,200.2 316.4,203.8 319.8,207.4 C323.2,210.9 327.0,214.4 331.0,217.8 C335.0,221.1 339.3,224.4 343.8,227.5 C348.3,230.7 355.8,235.1 358.2,236.6" fill="none" stroke="#1d3cb8" stroke-width="0.6" opacity="0.19"/>
    <path d="M476.8,12.1 C473.3,12.6 463.0,14.0 456.2,15.2 C449.5,16.5 442.8,17.9 436.3,19.4 C429.7,20.9 423.3,22.6 417.0,24.5 C410.8,26.3 404.6,28.3 398.7,30.4 C392.7,32.6 386.9,34.8 381.3,37.2 C375.7,39.6 370.3,42.2 365.1,44.9 C359.9,47.5 354.9,50.3 350.1,53.2 C345.3,56.1 340.8,59.1 336.5,62.2 C332.2,65.3 328.1,68.6 324.4,71.9 C320.6,75.2 317.0,78.6 313.8,82.0 C310.5,85.5 307.5,89.1 304.8,92.7 C302.1,96.3 299.7,100.0 297.6,103.7 C295.5,107.4 293.7,111.2 292.1,115.0 C290.6,118.8 289.4,122.7 288.4,126.5 C287.5,130.4 286.9,134.3 286.6,138.2 C286.3,142.1 286.3,146.0 286.6,149.9 C286.9,153.8 287.5,157.7 288.4,161.6 C289.3,165.4 290.6,169.3 292.1,173.1 C293.6,176.9 295.4,180.7 297.5,184.4 C299.6,188.1 302.0,191.8 304.7,195.4 C307.4,199.0 310.4,202.6 313.7,206.1 C316.9,209.5 320.4,212.9 324.2,216.3 C328.0,219.6 332.0,222.8 336.3,225.9 C340.6,229.0 347.7,233.4 349.9,234.9" fill="none" stroke="#1d3cb8" stroke-width="0.6" opacity="0.31"/>
    <path d="M535.9,2.4 C531.6,2.5 518.9,2.7 510.4,3.1 C502.0,3.6 493.5,4.3 485.2,5.2 C476.9,6.2 468.6,7.3 460.5,8.7 C452.4,10.1 444.4,11.7 436.6,13.5 C428.8,15.3 421.1,17.3 413.6,19.6 C406.2,21.8 398.9,24.3 391.9,26.9 C384.9,29.5 378.1,32.4 371.6,35.4 C365.1,38.3 358.9,41.5 353.0,44.9 C347.1,48.2 341.4,51.7 336.2,55.4 C330.9,59.0 325.9,62.8 321.3,66.7 C316.8,70.7 312.5,74.7 308.7,78.9 C304.8,83.0 301.3,87.3 298.3,91.6 C295.2,96.0 292.5,100.4 290.2,104.9 C287.9,109.4 286.1,113.9 284.6,118.5 C283.2,123.1 282.1,127.8 281.5,132.4 C280.9,137.0 280.7,141.7 281.0,146.4 C281.2,151.0 281.9,155.7 283.0,160.3 C284.1,164.9 285.6,169.5 287.5,174.1 C289.4,178.6 291.8,183.1 294.5,187.5 C297.2,191.9 300.4,196.3 303.9,200.5 C307.4,204.7 311.4,208.9 315.7,212.9 C319.9,216.9 324.6,220.8 329.6,224.6 C334.6,228.4 339.9,232.0 345.6,235.5 C351.2,239.0 360.5,243.8 363.4,245.4" fill="none" stroke="#1d3cb8" stroke-width="0.6" opacity="0.26"/>
    <path d="M531.9,-5.2 C527.7,-5.0 515.2,-4.7 506.9,-4.2 C498.6,-3.6 490.3,-2.8 482.2,-1.9 C474.0,-0.9 465.9,0.3 457.9,1.7 C450.0,3.1 442.1,4.7 434.4,6.5 C426.8,8.4 419.2,10.4 411.9,12.6 C404.5,14.8 397.4,17.2 390.4,19.7 C383.5,22.3 376.8,25.1 370.3,28.0 C363.9,30.9 357.7,34.0 351.8,37.2 C345.8,40.4 340.2,43.9 334.9,47.4 C329.5,50.9 324.5,54.6 319.8,58.4 C315.1,62.2 310.7,66.1 306.7,70.1 C302.6,74.1 298.9,78.3 295.6,82.5 C292.3,86.7 289.4,91.0 286.8,95.3 C284.2,99.7 282.0,104.1 280.2,108.6 C278.4,113.1 276.9,117.6 275.9,122.2 C274.9,126.7 274.2,131.3 274.0,135.9 C273.7,140.5 273.9,145.1 274.4,149.7 C275.0,154.2 275.9,158.8 277.3,163.3 C278.6,167.8 280.3,172.4 282.4,176.8 C284.5,181.2 287.0,185.6 289.9,189.9 C292.8,194.2 296.0,198.5 299.6,202.6 C303.2,206.7 307.2,210.8 311.4,214.7 C315.7,218.7 320.4,222.5 325.3,226.2 C330.3,229.9 338.5,235.1 341.1,236.9" fill="none" stroke="#1d3cb8" stroke-width="0.6" opacity="0.22"/>
    <path d="M555.0,-10.5 C550.4,-10.5 536.4,-10.8 527.2,-10.5 C518.0,-10.2 508.7,-9.7 499.5,-8.9 C490.4,-8.2 481.3,-7.1 472.3,-5.9 C463.4,-4.6 454.5,-3.0 445.8,-1.3 C437.1,0.5 428.6,2.6 420.3,4.8 C412.0,7.1 403.9,9.6 396.0,12.3 C388.2,15.0 380.6,17.9 373.3,21.0 C366.0,24.2 359.0,27.5 352.3,31.0 C345.6,34.5 339.2,38.3 333.3,42.1 C327.3,46.0 321.6,50.1 316.4,54.3 C311.2,58.5 306.3,62.8 301.9,67.3 C297.5,71.7 293.5,76.4 289.9,81.0 C286.3,85.7 283.2,90.5 280.5,95.4 C277.8,100.2 275.6,105.2 273.8,110.2 C272.1,115.2 270.8,120.2 269.9,125.3 C269.1,130.3 268.8,135.4 268.9,140.5 C269.0,145.6 269.6,150.7 270.7,155.7 C271.7,160.8 273.3,165.8 275.3,170.8 C277.3,175.7 279.8,180.7 282.7,185.5 C285.6,190.3 289.0,195.1 292.8,199.7 C296.5,204.3 300.8,208.9 305.4,213.3 C310.1,217.7 315.1,221.9 320.6,226.1 C326.0,230.2 331.8,234.1 338.0,237.9 C344.2,241.7 354.3,247.0 357.5,248.8" fill="none" stroke="#1d3cb8" stroke-width="0.6" opacity="0.14"/>
    <path d="M560.0,98.0 C565.0,99.6 580.8,103.3 590.0,108.0 C599.2,112.6 606.7,120.1 615.0,126.0 C623.3,131.8 635.8,140.1 640.0,143.0" fill="none" stroke="#1f44b8" stroke-width="0.5" opacity="0.13"/>
    <path d="M560.0,115.2 C565.0,116.9 580.8,120.5 590.0,125.2 C599.2,129.9 606.7,137.4 615.0,143.2 C623.3,149.0 635.8,157.4 640.0,160.2" fill="none" stroke="#1f44b8" stroke-width="0.5" opacity="0.10"/>
    <path d="M560.0,137.6 C565.0,139.3 580.8,143.0 590.0,147.6 C599.2,152.3 606.7,159.8 615.0,165.6 C623.3,171.5 635.8,179.8 640.0,182.6" fill="none" stroke="#1f44b8" stroke-width="0.5" opacity="0.07"/>
    <path d="M560.0,152.2 C565.0,153.9 580.8,157.5 590.0,162.2 C599.2,166.9 606.7,174.4 615.0,180.2 C623.3,186.0 635.8,194.4 640.0,197.2" fill="none" stroke="#1f44b8" stroke-width="0.5" opacity="0.08"/>
    <path d="M560.0,176.0 C565.0,177.7 580.8,181.4 590.0,186.0 C599.2,190.7 606.7,198.2 615.0,204.0 C623.3,209.9 635.8,218.2 640.0,221.0" fill="none" stroke="#1f44b8" stroke-width="0.5" opacity="0.09"/>
    <path d="M560.0,191.8 C565.0,193.5 580.8,197.1 590.0,201.8 C599.2,206.5 606.7,214.0 615.0,219.8 C623.3,225.6 635.8,234.0 640.0,236.8" fill="none" stroke="#1f44b8" stroke-width="0.5" opacity="0.12"/>
    <path d="M560.0,220.4 C565.0,222.1 580.8,225.8 590.0,230.4 C599.2,235.1 606.7,242.6 615.0,248.4 C623.3,254.3 635.8,262.6 640.0,265.4" fill="none" stroke="#1f44b8" stroke-width="0.5" opacity="0.08"/>
    <path d="M560.0,237.5 C565.0,239.1 580.8,242.8 590.0,247.5 C599.2,252.1 606.7,259.6 615.0,265.5 C623.3,271.3 635.8,279.6 640.0,282.5" fill="none" stroke="#1f44b8" stroke-width="0.5" opacity="0.09"/>
    <path d="M560.0,259.2 C565.0,260.9 580.8,264.6 590.0,269.2 C599.2,273.9 606.7,281.4 615.0,287.2 C623.3,293.1 635.8,301.4 640.0,304.2" fill="none" stroke="#1f44b8" stroke-width="0.5" opacity="0.11"/>
    <path d="M560.0,272.2 C565.0,273.9 580.8,277.5 590.0,282.2 C599.2,286.9 606.7,294.4 615.0,300.2 C623.3,306.0 635.8,314.4 640.0,317.2" fill="none" stroke="#1f44b8" stroke-width="0.5" opacity="0.08"/>
    <path d="M560.0,289.3 C565.0,290.9 580.8,294.6 590.0,299.3 C599.2,303.9 606.7,311.4 615.0,317.3 C623.3,323.1 635.8,331.4 640.0,334.3" fill="none" stroke="#1f44b8" stroke-width="0.5" opacity="0.10"/>
    <path d="M560.0,313.6 C565.0,315.3 580.8,318.9 590.0,323.6 C599.2,328.3 606.7,335.8 615.0,341.6 C623.3,347.4 635.8,355.8 640.0,358.6" fill="none" stroke="#1f44b8" stroke-width="0.5" opacity="0.07"/>
    <path d="M560.0,333.3 C565.0,335.0 580.8,338.7 590.0,343.3 C599.2,348.0 606.7,355.5 615.0,361.3 C623.3,367.2 635.8,375.5 640.0,378.3" fill="none" stroke="#1f44b8" stroke-width="0.5" opacity="0.09"/>
    <path d="M560.0,358.3 C565.0,360.0 580.8,363.6 590.0,368.3 C599.2,373.0 606.7,380.5 615.0,386.3 C623.3,392.1 635.8,400.5 640.0,403.3" fill="none" stroke="#1f44b8" stroke-width="0.5" opacity="0.07"/>
    <path d="M560.0,380.9 C565.0,382.6 580.8,386.2 590.0,390.9 C599.2,395.6 606.7,403.1 615.0,408.9 C623.3,414.7 635.8,423.1 640.0,425.9" fill="none" stroke="#1f44b8" stroke-width="0.5" opacity="0.10"/>
    <path d="M560.0,396.2 C565.0,397.9 580.8,401.5 590.0,406.2 C599.2,410.9 606.7,418.4 615.0,424.2 C623.3,430.0 635.8,438.4 640.0,441.2" fill="none" stroke="#1f44b8" stroke-width="0.5" opacity="0.10"/>
    <path d="M470.0,113.0 C478.3,110.2 501.7,100.2 520.0,96.0 C538.3,91.8 560.0,88.0 580.0,88.0 C600.0,88.0 630.0,94.7 640.0,96.0" fill="none" stroke="#1f44b8" stroke-width="0.5" opacity="0.29"/>
    <path d="M470.0,120.0 C478.3,117.2 501.7,107.2 520.0,103.0 C538.3,98.8 560.0,95.0 580.0,95.0 C600.0,95.0 630.0,101.7 640.0,103.0" fill="none" stroke="#1f44b8" stroke-width="0.5" opacity="0.28"/>
    <path d="M470.0,127.0 C478.3,124.2 501.7,114.2 520.0,110.0 C538.3,105.8 560.0,102.0 580.0,102.0 C600.0,102.0 630.0,108.7 640.0,110.0" fill="none" stroke="#1f44b8" stroke-width="0.5" opacity="0.23"/>
    <path d="M470.0,134.0 C478.3,131.2 501.7,121.2 520.0,117.0 C538.3,112.8 560.0,109.0 580.0,109.0 C600.0,109.0 630.0,115.7 640.0,117.0" fill="none" stroke="#1f44b8" stroke-width="0.5" opacity="0.22"/>
    <path d="M470.0,141.0 C478.3,138.2 501.7,128.2 520.0,124.0 C538.3,119.8 560.0,116.0 580.0,116.0 C600.0,116.0 630.0,122.7 640.0,124.0" fill="none" stroke="#1f44b8" stroke-width="0.5" opacity="0.26"/>
    <path d="M470.0,148.0 C478.3,145.2 501.7,135.2 520.0,131.0 C538.3,126.8 560.0,123.0 580.0,123.0 C600.0,123.0 630.0,129.7 640.0,131.0" fill="none" stroke="#1f44b8" stroke-width="0.5" opacity="0.29"/>
    <path d="M470.0,155.0 C478.3,152.2 501.7,142.2 520.0,138.0 C538.3,133.8 560.0,130.0 580.0,130.0 C600.0,130.0 630.0,136.7 640.0,138.0" fill="none" stroke="#1f44b8" stroke-width="0.5" opacity="0.20"/>
    <path d="M470.0,162.0 C478.3,159.2 501.7,149.2 520.0,145.0 C538.3,140.8 560.0,137.0 580.0,137.0 C600.0,137.0 630.0,143.7 640.0,145.0" fill="none" stroke="#1f44b8" stroke-width="0.5" opacity="0.27"/>
    <path d="M470.0,169.0 C478.3,166.2 501.7,156.2 520.0,152.0 C538.3,147.8 560.0,144.0 580.0,144.0 C600.0,144.0 630.0,150.7 640.0,152.0" fill="none" stroke="#1f44b8" stroke-width="0.5" opacity="0.31"/>
    <path d="M470.0,176.0 C478.3,173.2 501.7,163.2 520.0,159.0 C538.3,154.8 560.0,151.0 580.0,151.0 C600.0,151.0 630.0,157.7 640.0,159.0" fill="none" stroke="#1f44b8" stroke-width="0.5" opacity="0.21"/>
    <!-- bottom streak -->
    <filter id="bl3" x="-20%" y="-50%" width="140%" height="200%"><feGaussianBlur stdDeviation="3"/></filter>
    <filter id="bl6" x="-20%" y="-100%" width="140%" height="300%"><feGaussianBlur stdDeviation="6"/></filter>
    <filter id="bl1" x="-20%" y="-50%" width="140%" height="200%"><feGaussianBlur stdDeviation="1.2"/></filter>
    <linearGradient id="gstreak" gradientUnits="userSpaceOnUse" x1="35" y1="0" x2="635" y2="0">
      <stop offset="0" stop-color="#125a56"/>
      <stop offset="0.35" stop-color="#187068"/>
      <stop offset="0.5" stop-color="#607a78"/>
      <stop offset="0.62" stop-color="#4a70b0"/>
      <stop offset="0.8" stop-color="#3050c8"/>
      <stop offset="1" stop-color="#2646b8"/>
    </linearGradient>
    <linearGradient id="ghl" gradientUnits="userSpaceOnUse" x1="200" y1="0" x2="480" y2="0">
      <stop offset="0" stop-color="#a09090" stop-opacity="0"/>
      <stop offset="0.45" stop-color="#c09080" stop-opacity="0.4"/>
      <stop offset="0.75" stop-color="#90b0c0" stop-opacity="0.35"/>
      <stop offset="1" stop-color="#80a0d0" stop-opacity="0"/>
    </linearGradient>
    <radialGradient id="gflare" cx="0.5" cy="0.5" r="0.5">
      <stop offset="0" stop-color="#e0ffd8" stop-opacity="0.9"/><stop offset="0.4" stop-color="#90d0b0" stop-opacity="0.45"/><stop offset="1" stop-color="#3050c0" stop-opacity="0"/>
    </radialGradient>
    <path d="M30,295 C110,323 185,350 260,369.5 C300,379.5 335,386.5 390,396 C420,401 445,404 468,404.5 C520,405 580,401 640,395" fill="none" stroke="#1a2a90" stroke-width="22" opacity="0.35" filter="url(#bl6)"/>
    <path d="M30,295 C110,323 185,350 260,369.5 C300,379.5 335,386.5 390,396 C420,401 445,404 468,404.5 C520,405 580,401 640,395" fill="none" stroke="url(#gstreak)" stroke-width="13" opacity="0.8" filter="url(#bl3)"/>
    <path d="M230,362 C270,373 335,386.5 390,396 C420,401 445,404 480,404.5" fill="none" stroke="url(#ghl)" stroke-width="2.2" filter="url(#bl1)"/>
    <path d="M400.0,403.0 C411.7,402.9 446.7,404.0 470.0,402.5 C493.3,401.0 518.3,397.1 540.0,393.8 C561.7,390.4 583.3,385.8 600.0,382.1 C616.7,378.5 633.3,373.7 640.0,372.0" fill="none" stroke="#2448c8" stroke-width="0.8" opacity="0.85"/>
    <path d="M400.0,404.2 C411.7,404.1 446.7,405.1 470.0,403.7 C493.3,402.3 518.3,398.7 540.0,395.6 C561.7,392.4 583.3,388.2 600.0,384.9 C616.7,381.6 633.3,377.2 640.0,375.6" fill="none" stroke="#2448c8" stroke-width="1.0" opacity="0.70"/>
    <path d="M400.0,405.4 C411.7,405.3 446.7,406.2 470.0,404.9 C493.3,403.6 518.3,400.2 540.0,397.3 C561.7,394.5 583.3,390.7 600.0,387.7 C616.7,384.6 633.3,380.6 640.0,379.2" fill="none" stroke="#2a4ad8" stroke-width="1.0" opacity="0.57"/>
    <path d="M400.0,406.6 C411.7,406.5 446.7,407.3 470.0,406.1 C493.3,404.9 518.3,401.8 540.0,399.2 C561.7,396.5 583.3,393.2 600.0,390.4 C616.7,387.7 633.3,384.1 640.0,382.8" fill="none" stroke="#2448c8" stroke-width="0.6" opacity="0.75"/>
    <path d="M400.0,407.8 C411.7,407.7 446.7,408.4 470.0,407.3 C493.3,406.2 518.3,403.3 540.0,400.9 C561.7,398.6 583.3,395.6 600.0,393.2 C616.7,390.8 633.3,387.5 640.0,386.4" fill="none" stroke="#2a4ad8" stroke-width="0.6" opacity="0.68"/>
    <path d="M400.0,409.0 C411.7,408.9 446.7,409.5 470.0,408.5 C493.3,407.5 518.3,404.8 540.0,402.8 C561.7,400.7 583.3,398.1 600.0,395.9 C616.7,393.8 633.3,391.0 640.0,390.0" fill="none" stroke="#2a4ad8" stroke-width="1.0" opacity="0.72"/>
    <path d="M400.0,410.2 C411.7,410.1 446.7,410.6 470.0,409.7 C493.3,408.8 518.3,406.4 540.0,404.6 C561.7,402.7 583.3,400.5 600.0,398.7 C616.7,396.9 633.3,394.5 640.0,393.6" fill="none" stroke="#3060e0" stroke-width="0.8" opacity="0.52"/>
    <path d="M400.0,411.4 C411.7,411.3 446.7,411.7 470.0,410.9 C493.3,410.1 518.3,407.9 540.0,406.3 C561.7,404.8 583.3,403.0 600.0,401.5 C616.7,399.9 633.3,397.9 640.0,397.2" fill="none" stroke="#2448c8" stroke-width="1.0" opacity="0.76"/>
    <path d="M400.0,412.6 C411.7,412.5 446.7,412.8 470.0,412.1 C493.3,411.4 518.3,409.5 540.0,408.2 C561.7,406.8 583.3,405.5 600.0,404.2 C616.7,403.0 633.3,401.4 640.0,400.8" fill="none" stroke="#3060e0" stroke-width="0.6" opacity="0.56"/>
    <path d="M400.0,413.8 C411.7,413.7 446.7,413.9 470.0,413.3 C493.3,412.7 518.3,411.0 540.0,409.9 C561.7,408.9 583.3,407.9 600.0,407.0 C616.7,406.1 633.3,404.8 640.0,404.4" fill="none" stroke="#3060e0" stroke-width="0.6" opacity="0.53"/>
    <path d="M400.0,415.0 C411.7,414.9 446.7,415.0 470.0,414.5 C493.3,414.0 518.3,412.5 540.0,411.8 C561.7,411.0 583.3,410.4 600.0,409.8 C616.7,409.1 633.3,408.3 640.0,408.0" fill="none" stroke="#2a4ad8" stroke-width="1.0" opacity="0.85"/>
    <path d="M400.0,416.2 C411.7,416.1 446.7,416.1 470.0,415.7 C493.3,415.3 518.3,414.1 540.0,413.6 C561.7,413.0 583.3,412.8 600.0,412.5 C616.7,412.2 633.3,411.8 640.0,411.6" fill="none" stroke="#2a4ad8" stroke-width="0.8" opacity="0.81"/>
    <path d="M420.0,402.0 C430.0,402.3 456.7,404.2 480.0,404.0 C503.3,403.8 533.3,402.8 560.0,401.0 C586.7,399.2 626.7,394.3 640.0,393.0" fill="none" stroke="#40b0a0" stroke-width="3" opacity="0.5" filter="url(#bl1)"/>
    <path d="M520.0,402.5 C526.7,402.2 540.0,402.6 560.0,401.0 C580.0,399.4 626.7,394.3 640.0,393.0" fill="none" stroke="#c0b080" stroke-width="1" opacity="0.45"/>
    <circle cx="468" cy="404.5" r="7" fill="url(#gflare)"/>
    <path d="M575,218 C590,224 603,237 610,252" fill="none" stroke="#2aa0a0" stroke-width="5" opacity="0.6" filter="url(#bl1)"/>
    <path d="M575,218 C590,224 600,234 606,245" fill="none" stroke="#d0b878" stroke-width="1.8" opacity="0.8" filter="url(#bl1)"/>

    <!-- decade panels -->
    <rect x="49.5" y="164" width="247.5" height="70.5" fill="url(#gpanel)"/>
    <line x1="49.5" y1="164" x2="49.5" y2="233" stroke="#55555f" stroke-width="0.6"/>
    <line x1="173.4" y1="164" x2="173.4" y2="232" stroke="#9a9aa5" stroke-width="0.6"/>

    <!-- chart -->
    <path d="M37.0,233.3 C41.2,233.2 51.5,233.1 62.0,233.0 C72.5,232.9 87.0,232.7 100.0,232.5 C113.0,232.3 128.3,232.1 140.0,232.0 C151.7,231.9 157.7,232.1 170.0,231.8 C182.3,231.5 200.7,230.4 214.0,230.2 C227.3,230.0 237.3,230.5 250.0,230.4 C262.7,230.3 278.2,230.1 290.0,229.7 C301.8,229.3 310.7,228.6 321.0,228.2 C331.3,227.8 343.8,227.3 352.0,227.2 C360.2,227.0 364.5,227.3 370.0,227.3 C375.5,227.3 380.1,228.0 385.0,227.3 C389.9,226.6 394.7,225.1 399.5,222.9 C404.3,220.7 409.1,216.7 414.0,214.0 C418.9,211.3 424.0,208.6 429.0,206.6 C434.0,204.6 439.3,204.3 444.0,202.2 C448.7,200.1 452.8,197.6 457.0,194.0 C461.2,190.4 465.2,184.3 469.0,180.5 C472.8,176.7 476.2,173.6 480.0,171.0 C483.8,168.4 488.2,166.9 491.5,165.2 C494.8,163.4 497.1,163.1 500.0,160.5 C502.9,157.9 506.0,152.9 509.0,149.5 C512.0,146.1 514.9,143.1 518.0,140.3 C521.1,137.6 524.4,135.0 527.5,133.0 C530.6,131.0 533.5,129.9 536.6,128.4 C539.7,126.9 542.9,126.3 546.0,123.9 C549.1,121.5 552.0,117.0 555.0,113.8 C558.0,110.6 561.6,106.6 564.0,104.6 C566.4,102.6 567.8,102.6 569.6,101.9 C571.4,101.2 574.1,100.8 575.0,100.6 L575,377 C573.9,376.0 571.9,375.2 568.6,373.5 C565.3,371.8 559.6,368.7 555.0,366.0 C550.4,363.3 545.6,360.2 541.0,357.5 C536.4,354.8 530.8,351.9 527.4,350.0 C524.0,348.1 522.8,347.5 520.6,346.0 C518.4,344.5 516.3,342.8 514.0,341.0 C511.7,339.2 509.3,337.1 507.0,335.5 C504.7,333.9 501.8,332.6 500.0,331.5 C498.2,330.4 499.2,330.9 496.0,329.0 C492.8,327.1 484.3,322.3 481.0,320.0 C477.7,317.7 478.7,317.5 476.0,315.3 C473.3,313.1 468.7,309.6 465.0,307.0 C461.3,304.4 457.7,301.6 454.0,299.5 C450.3,297.4 446.7,295.8 443.0,294.7 C439.3,293.6 435.7,293.3 432.0,292.6 C428.3,291.9 424.7,291.7 421.0,290.6 C417.3,289.5 413.5,287.4 410.0,285.8 C406.5,284.2 403.5,282.4 400.0,281.0 C396.5,279.6 393.3,278.4 389.0,277.3 C384.7,276.2 378.9,274.8 374.0,274.3 C369.1,273.8 364.3,274.7 359.5,274.3 C354.7,273.9 349.9,273.3 345.0,272.1 C340.1,270.9 335.8,269.2 330.0,267.0 C324.2,264.8 316.7,260.9 310.0,259.0 C303.3,257.1 295.7,256.4 290.0,255.7 C284.3,255.0 281.2,255.2 276.0,254.8 C270.8,254.4 264.3,254.0 258.5,253.0 C252.7,252.0 246.9,249.9 241.0,248.6 C235.1,247.3 229.0,245.7 223.0,245.0 C217.0,244.3 210.8,244.9 205.0,244.2 C199.2,243.5 193.8,241.4 188.0,240.7 C182.2,240.0 178.0,240.3 170.0,239.8 C162.0,239.3 151.7,238.2 140.0,237.6 C128.3,237.0 113.0,236.5 100.0,236.0 C87.0,235.5 72.5,234.9 62.0,234.5 C51.5,234.1 41.2,233.8 37.0,233.6 Z" fill="#24a0ad"/>
    <path d="M300.0,231.5 L321.0,228.2 C326.2,228.0 343.8,227.3 352.0,227.2 C360.2,227.0 364.5,227.3 370.0,227.3 C375.5,227.3 380.1,228.0 385.0,227.3 C389.9,226.6 394.7,225.1 399.5,222.9 C404.3,220.7 409.1,216.7 414.0,214.0 C418.9,211.3 424.0,208.6 429.0,206.6 C434.0,204.6 439.3,204.3 444.0,202.2 C448.7,200.1 452.8,197.6 457.0,194.0 C461.2,190.4 465.2,184.3 469.0,180.5 C472.8,176.7 476.2,173.6 480.0,171.0 C483.8,168.4 488.2,166.9 491.5,165.2 C494.8,163.4 497.1,163.1 500.0,160.5 C502.9,157.9 506.0,152.9 509.0,149.5 C512.0,146.1 514.9,143.1 518.0,140.3 C521.1,137.6 524.4,135.0 527.5,133.0 C530.6,131.0 533.5,129.9 536.6,128.4 C539.7,126.9 542.9,126.3 546.0,123.9 C549.1,121.5 552.0,117.0 555.0,113.8 C558.0,110.6 561.6,106.6 564.0,104.6 C566.4,102.6 567.8,102.6 569.6,101.9 C571.4,101.2 574.1,100.8 575.0,100.6 L575.0,271.0 C571.2,270.5 561.2,269.4 552.0,267.9 C542.8,266.4 530.7,263.9 520.0,262.1 C509.3,260.3 496.3,258.9 488.0,257.3 C479.7,255.7 474.9,253.7 470.0,252.4 C465.1,251.1 462.8,250.3 458.5,249.4 C454.2,248.5 448.9,247.9 444.0,247.2 C439.1,246.5 434.0,245.7 429.0,245.0 C424.0,244.3 418.9,243.8 414.0,242.8 C409.1,241.8 404.3,239.6 399.5,239.0 C394.7,238.4 389.9,239.1 385.0,239.0 C380.1,238.9 375.0,238.4 370.0,238.3 C365.0,238.2 361.7,238.7 355.0,238.5 C348.3,238.3 339.2,238.2 330.0,237.0 C320.8,235.8 305.0,232.4 300.0,231.5 Z" fill="#2e8cbc"/>
    <path d="M270.0,230.3 L290.0,229.7 C295.2,229.4 310.7,228.6 321.0,228.2 C331.3,227.8 343.8,227.3 352.0,227.2 C360.2,227.0 364.5,227.3 370.0,227.3 C375.5,227.3 380.1,228.0 385.0,227.3 C389.9,226.6 394.7,225.1 399.5,222.9 C404.3,220.7 409.1,216.7 414.0,214.0 C418.9,211.3 424.0,208.6 429.0,206.6 C434.0,204.6 439.3,204.3 444.0,202.2 C448.7,200.1 452.8,197.6 457.0,194.0 C461.2,190.4 465.2,184.3 469.0,180.5 C472.8,176.7 476.2,173.6 480.0,171.0 C483.8,168.4 488.2,166.9 491.5,165.2 C494.8,163.4 497.1,163.1 500.0,160.5 C502.9,157.9 506.0,152.9 509.0,149.5 C512.0,146.1 514.9,143.1 518.0,140.3 C521.1,137.6 524.4,135.0 527.5,133.0 C530.6,131.0 533.5,129.9 536.6,128.4 C539.7,126.9 542.9,126.3 546.0,123.9 C549.1,121.5 552.0,117.0 555.0,113.8 C558.0,110.6 561.6,106.6 564.0,104.6 C566.4,102.6 567.8,102.6 569.6,101.9 C571.4,101.2 574.1,100.8 575.0,100.6 L575.0,251.0 C571.2,251.2 558.5,252.2 552.0,252.5 C545.5,252.8 544.0,252.9 536.0,252.5 C528.0,252.1 512.0,250.9 504.0,250.0 C496.0,249.1 493.3,248.2 488.0,247.0 C482.7,245.8 476.9,244.1 472.0,243.0 C467.1,241.9 463.2,241.4 458.5,240.6 C453.8,239.8 448.9,239.1 444.0,238.3 C439.1,237.6 434.0,236.9 429.0,236.1 C424.0,235.2 418.9,233.8 414.0,233.2 C409.1,232.6 404.3,232.3 399.5,232.4 C394.7,232.5 389.9,233.8 385.0,234.0 C380.1,234.2 375.0,233.2 370.0,233.6 C365.0,234.0 360.0,235.9 355.0,236.5 C350.0,237.1 345.0,237.2 340.0,237.0 C335.0,236.8 330.0,236.2 325.0,235.5 C320.0,234.8 315.5,233.9 310.0,233.0 C304.5,232.1 298.7,230.8 292.0,230.3 C285.3,229.9 273.7,230.3 270.0,230.3 Z" fill="#3b74cc"/>
    <path d="M300.0,229.7 L321.0,228.2 C326.2,228.0 343.8,227.3 352.0,227.2 C360.2,227.0 364.5,227.3 370.0,227.3 C375.5,227.3 380.1,228.0 385.0,227.3 C389.9,226.6 394.7,225.1 399.5,222.9 C404.3,220.7 409.1,216.7 414.0,214.0 C418.9,211.3 424.0,208.6 429.0,206.6 C434.0,204.6 439.3,204.3 444.0,202.2 C448.7,200.1 452.8,197.6 457.0,194.0 C461.2,190.4 465.2,184.3 469.0,180.5 C472.8,176.7 476.2,173.6 480.0,171.0 C483.8,168.4 488.2,166.9 491.5,165.2 C494.8,163.4 497.1,163.1 500.0,160.5 C502.9,157.9 506.0,152.9 509.0,149.5 C512.0,146.1 514.9,143.1 518.0,140.3 C521.1,137.6 524.4,135.0 527.5,133.0 C530.6,131.0 533.5,129.9 536.6,128.4 C539.7,126.9 542.9,126.3 546.0,123.9 C549.1,121.5 552.0,117.0 555.0,113.8 C558.0,110.6 561.6,106.6 564.0,104.6 C566.4,102.6 567.8,102.6 569.6,101.9 C571.4,101.2 574.1,100.8 575.0,100.6 L575.0,161.9 C573.6,162.1 569.5,162.4 566.6,162.9 C563.7,163.4 560.1,163.7 557.5,164.7 C554.9,165.7 553.3,167.1 551.0,168.8 C548.7,170.6 547.2,173.4 543.7,175.2 C540.2,176.9 534.5,177.9 530.0,179.3 C525.5,180.7 521.3,181.0 517.0,183.5 C512.7,186.0 508.8,191.4 504.0,194.5 C499.2,197.6 493.3,199.8 488.0,202.0 C482.7,204.2 476.9,205.5 472.0,208.0 C467.1,210.5 463.2,214.5 458.5,217.0 C453.8,219.5 448.9,221.9 444.0,222.9 C439.1,223.9 434.0,222.8 429.0,222.9 C424.0,223.0 418.9,222.9 414.0,223.6 C409.1,224.3 404.3,226.3 399.5,227.3 C394.7,228.3 389.9,229.1 385.0,229.5 C380.1,229.9 375.5,229.4 370.0,229.5 C364.5,229.6 360.2,230.1 352.0,230.0 C343.8,229.9 329.7,229.1 321.0,229.0 C312.3,228.9 303.5,229.6 300.0,229.7 Z" fill="#4c59d6"/>
    <filter id="shb" x="-10%" y="-50%" width="120%" height="200%"><feGaussianBlur stdDeviation="1.6"/></filter><clipPath id="c_cell"><path d="M300.0,229.7 L321.0,228.2 C326.2,228.0 343.8,227.3 352.0,227.2 C360.2,227.0 364.5,227.3 370.0,227.3 C375.5,227.3 380.1,228.0 385.0,227.3 C389.9,226.6 394.7,225.1 399.5,222.9 C404.3,220.7 409.1,216.7 414.0,214.0 C418.9,211.3 424.0,208.6 429.0,206.6 C434.0,204.6 439.3,204.3 444.0,202.2 C448.7,200.1 452.8,197.6 457.0,194.0 C461.2,190.4 465.2,184.3 469.0,180.5 C472.8,176.7 476.2,173.6 480.0,171.0 C483.8,168.4 488.2,166.9 491.5,165.2 C494.8,163.4 497.1,163.1 500.0,160.5 C502.9,157.9 506.0,152.9 509.0,149.5 C512.0,146.1 514.9,143.1 518.0,140.3 C521.1,137.6 524.4,135.0 527.5,133.0 C530.6,131.0 533.5,129.9 536.6,128.4 C539.7,126.9 542.9,126.3 546.0,123.9 C549.1,121.5 552.0,117.0 555.0,113.8 C558.0,110.6 561.6,106.6 564.0,104.6 C566.4,102.6 567.8,102.6 569.6,101.9 C571.4,101.2 574.1,100.8 575.0,100.6 L575.0,161.9 C573.6,162.1 569.5,162.4 566.6,162.9 C563.7,163.4 560.1,163.7 557.5,164.7 C554.9,165.7 553.3,167.1 551.0,168.8 C548.7,170.6 547.2,173.4 543.7,175.2 C540.2,176.9 534.5,177.9 530.0,179.3 C525.5,180.7 521.3,181.0 517.0,183.5 C512.7,186.0 508.8,191.4 504.0,194.5 C499.2,197.6 493.3,199.8 488.0,202.0 C482.7,204.2 476.9,205.5 472.0,208.0 C467.1,210.5 463.2,214.5 458.5,217.0 C453.8,219.5 448.9,221.9 444.0,222.9 C439.1,223.9 434.0,222.8 429.0,222.9 C424.0,223.0 418.9,222.9 414.0,223.6 C409.1,224.3 404.3,226.3 399.5,227.3 C394.7,228.3 389.9,229.1 385.0,229.5 C380.1,229.9 375.5,229.4 370.0,229.5 C364.5,229.6 360.2,230.1 352.0,230.0 C343.8,229.9 329.7,229.1 321.0,229.0 C312.3,228.9 303.5,229.6 300.0,229.7 Z"/></clipPath><path d="M300.0,229.7 C303.5,229.6 312.3,228.9 321.0,229.0 C329.7,229.1 343.8,229.9 352.0,230.0 C360.2,230.1 364.5,229.6 370.0,229.5 C375.5,229.4 380.1,229.9 385.0,229.5 C389.9,229.1 394.7,228.3 399.5,227.3 C404.3,226.3 409.1,224.3 414.0,223.6 C418.9,222.9 424.0,223.0 429.0,222.9 C434.0,222.8 439.1,223.9 444.0,222.9 C448.9,221.9 453.8,219.5 458.5,217.0 C463.2,214.5 467.1,210.5 472.0,208.0 C476.9,205.5 482.7,204.2 488.0,202.0 C493.3,199.8 499.2,197.6 504.0,194.5 C508.8,191.4 512.7,186.0 517.0,183.5 C521.3,181.0 525.5,180.7 530.0,179.3 C534.5,177.9 540.2,176.9 543.7,175.2 C547.2,173.4 548.7,170.6 551.0,168.8 C553.3,167.1 554.9,165.7 557.5,164.7 C560.1,163.7 563.7,163.4 566.6,162.9 C569.5,162.4 573.6,162.1 575.0,161.9" fill="none" stroke="#101040" stroke-width="5.0" opacity="0.22" clip-path="url(#c_cell)" filter="url(#shb)"/><clipPath id="c_auto"><path d="M270.0,230.3 L290.0,229.7 C295.2,229.4 310.7,228.6 321.0,228.2 C331.3,227.8 343.8,227.3 352.0,227.2 C360.2,227.0 364.5,227.3 370.0,227.3 C375.5,227.3 380.1,228.0 385.0,227.3 C389.9,226.6 394.7,225.1 399.5,222.9 C404.3,220.7 409.1,216.7 414.0,214.0 C418.9,211.3 424.0,208.6 429.0,206.6 C434.0,204.6 439.3,204.3 444.0,202.2 C448.7,200.1 452.8,197.6 457.0,194.0 C461.2,190.4 465.2,184.3 469.0,180.5 C472.8,176.7 476.2,173.6 480.0,171.0 C483.8,168.4 488.2,166.9 491.5,165.2 C494.8,163.4 497.1,163.1 500.0,160.5 C502.9,157.9 506.0,152.9 509.0,149.5 C512.0,146.1 514.9,143.1 518.0,140.3 C521.1,137.6 524.4,135.0 527.5,133.0 C530.6,131.0 533.5,129.9 536.6,128.4 C539.7,126.9 542.9,126.3 546.0,123.9 C549.1,121.5 552.0,117.0 555.0,113.8 C558.0,110.6 561.6,106.6 564.0,104.6 C566.4,102.6 567.8,102.6 569.6,101.9 C571.4,101.2 574.1,100.8 575.0,100.6 L575.0,251.0 C571.2,251.2 558.5,252.2 552.0,252.5 C545.5,252.8 544.0,252.9 536.0,252.5 C528.0,252.1 512.0,250.9 504.0,250.0 C496.0,249.1 493.3,248.2 488.0,247.0 C482.7,245.8 476.9,244.1 472.0,243.0 C467.1,241.9 463.2,241.4 458.5,240.6 C453.8,239.8 448.9,239.1 444.0,238.3 C439.1,237.6 434.0,236.9 429.0,236.1 C424.0,235.2 418.9,233.8 414.0,233.2 C409.1,232.6 404.3,232.3 399.5,232.4 C394.7,232.5 389.9,233.8 385.0,234.0 C380.1,234.2 375.0,233.2 370.0,233.6 C365.0,234.0 360.0,235.9 355.0,236.5 C350.0,237.1 345.0,237.2 340.0,237.0 C335.0,236.8 330.0,236.2 325.0,235.5 C320.0,234.8 315.5,233.9 310.0,233.0 C304.5,232.1 298.7,230.8 292.0,230.3 C285.3,229.9 273.7,230.3 270.0,230.3 Z"/></clipPath><path d="M270.0,230.3 C273.7,230.3 285.3,229.9 292.0,230.3 C298.7,230.8 304.5,232.1 310.0,233.0 C315.5,233.9 320.0,234.8 325.0,235.5 C330.0,236.2 335.0,236.8 340.0,237.0 C345.0,237.2 350.0,237.1 355.0,236.5 C360.0,235.9 365.0,234.0 370.0,233.6 C375.0,233.2 380.1,234.2 385.0,234.0 C389.9,233.8 394.7,232.5 399.5,232.4 C404.3,232.3 409.1,232.6 414.0,233.2 C418.9,233.8 424.0,235.2 429.0,236.1 C434.0,236.9 439.1,237.6 444.0,238.3 C448.9,239.1 453.8,239.8 458.5,240.6 C463.2,241.4 467.1,241.9 472.0,243.0 C476.9,244.1 482.7,245.8 488.0,247.0 C493.3,248.2 496.0,249.1 504.0,250.0 C512.0,250.9 528.0,252.1 536.0,252.5 C544.0,252.9 545.5,252.8 552.0,252.5 C558.5,252.2 571.2,251.2 575.0,251.0" fill="none" stroke="#101040" stroke-width="5.0" opacity="0.18" clip-path="url(#c_auto)" filter="url(#shb)"/><clipPath id="c_dc"><path d="M300.0,231.5 L321.0,228.2 C326.2,228.0 343.8,227.3 352.0,227.2 C360.2,227.0 364.5,227.3 370.0,227.3 C375.5,227.3 380.1,228.0 385.0,227.3 C389.9,226.6 394.7,225.1 399.5,222.9 C404.3,220.7 409.1,216.7 414.0,214.0 C418.9,211.3 424.0,208.6 429.0,206.6 C434.0,204.6 439.3,204.3 444.0,202.2 C448.7,200.1 452.8,197.6 457.0,194.0 C461.2,190.4 465.2,184.3 469.0,180.5 C472.8,176.7 476.2,173.6 480.0,171.0 C483.8,168.4 488.2,166.9 491.5,165.2 C494.8,163.4 497.1,163.1 500.0,160.5 C502.9,157.9 506.0,152.9 509.0,149.5 C512.0,146.1 514.9,143.1 518.0,140.3 C521.1,137.6 524.4,135.0 527.5,133.0 C530.6,131.0 533.5,129.9 536.6,128.4 C539.7,126.9 542.9,126.3 546.0,123.9 C549.1,121.5 552.0,117.0 555.0,113.8 C558.0,110.6 561.6,106.6 564.0,104.6 C566.4,102.6 567.8,102.6 569.6,101.9 C571.4,101.2 574.1,100.8 575.0,100.6 L575.0,271.0 C571.2,270.5 561.2,269.4 552.0,267.9 C542.8,266.4 530.7,263.9 520.0,262.1 C509.3,260.3 496.3,258.9 488.0,257.3 C479.7,255.7 474.9,253.7 470.0,252.4 C465.1,251.1 462.8,250.3 458.5,249.4 C454.2,248.5 448.9,247.9 444.0,247.2 C439.1,246.5 434.0,245.7 429.0,245.0 C424.0,244.3 418.9,243.8 414.0,242.8 C409.1,241.8 404.3,239.6 399.5,239.0 C394.7,238.4 389.9,239.1 385.0,239.0 C380.1,238.9 375.0,238.4 370.0,238.3 C365.0,238.2 361.7,238.7 355.0,238.5 C348.3,238.3 339.2,238.2 330.0,237.0 C320.8,235.8 305.0,232.4 300.0,231.5 Z"/></clipPath><path d="M300.0,231.5 C305.0,232.4 320.8,235.8 330.0,237.0 C339.2,238.2 348.3,238.3 355.0,238.5 C361.7,238.7 365.0,238.2 370.0,238.3 C375.0,238.4 380.1,238.9 385.0,239.0 C389.9,239.1 394.7,238.4 399.5,239.0 C404.3,239.6 409.1,241.8 414.0,242.8 C418.9,243.8 424.0,244.3 429.0,245.0 C434.0,245.7 439.1,246.5 444.0,247.2 C448.9,247.9 454.2,248.5 458.5,249.4 C462.8,250.3 465.1,251.1 470.0,252.4 C474.9,253.7 479.7,255.7 488.0,257.3 C496.3,258.9 509.3,260.3 520.0,262.1 C530.7,263.9 542.8,266.4 552.0,267.9 C561.2,269.4 571.2,270.5 575.0,271.0" fill="none" stroke="#101040" stroke-width="5.0" opacity="0.15" clip-path="url(#c_dc)" filter="url(#shb)"/><clipPath id="c_full"><path d="M37.0,233.3 C41.2,233.2 51.5,233.1 62.0,233.0 C72.5,232.9 87.0,232.7 100.0,232.5 C113.0,232.3 128.3,232.1 140.0,232.0 C151.7,231.9 157.7,232.1 170.0,231.8 C182.3,231.5 200.7,230.4 214.0,230.2 C227.3,230.0 237.3,230.5 250.0,230.4 C262.7,230.3 278.2,230.1 290.0,229.7 C301.8,229.3 310.7,228.6 321.0,228.2 C331.3,227.8 343.8,227.3 352.0,227.2 C360.2,227.0 364.5,227.3 370.0,227.3 C375.5,227.3 380.1,228.0 385.0,227.3 C389.9,226.6 394.7,225.1 399.5,222.9 C404.3,220.7 409.1,216.7 414.0,214.0 C418.9,211.3 424.0,208.6 429.0,206.6 C434.0,204.6 439.3,204.3 444.0,202.2 C448.7,200.1 452.8,197.6 457.0,194.0 C461.2,190.4 465.2,184.3 469.0,180.5 C472.8,176.7 476.2,173.6 480.0,171.0 C483.8,168.4 488.2,166.9 491.5,165.2 C494.8,163.4 497.1,163.1 500.0,160.5 C502.9,157.9 506.0,152.9 509.0,149.5 C512.0,146.1 514.9,143.1 518.0,140.3 C521.1,137.6 524.4,135.0 527.5,133.0 C530.6,131.0 533.5,129.9 536.6,128.4 C539.7,126.9 542.9,126.3 546.0,123.9 C549.1,121.5 552.0,117.0 555.0,113.8 C558.0,110.6 561.6,106.6 564.0,104.6 C566.4,102.6 567.8,102.6 569.6,101.9 C571.4,101.2 574.1,100.8 575.0,100.6 L575,377 C573.9,376.0 571.9,375.2 568.6,373.5 C565.3,371.8 559.6,368.7 555.0,366.0 C550.4,363.3 545.6,360.2 541.0,357.5 C536.4,354.8 530.8,351.9 527.4,350.0 C524.0,348.1 522.8,347.5 520.6,346.0 C518.4,344.5 516.3,342.8 514.0,341.0 C511.7,339.2 509.3,337.1 507.0,335.5 C504.7,333.9 501.8,332.6 500.0,331.5 C498.2,330.4 499.2,330.9 496.0,329.0 C492.8,327.1 484.3,322.3 481.0,320.0 C477.7,317.7 478.7,317.5 476.0,315.3 C473.3,313.1 468.7,309.6 465.0,307.0 C461.3,304.4 457.7,301.6 454.0,299.5 C450.3,297.4 446.7,295.8 443.0,294.7 C439.3,293.6 435.7,293.3 432.0,292.6 C428.3,291.9 424.7,291.7 421.0,290.6 C417.3,289.5 413.5,287.4 410.0,285.8 C406.5,284.2 403.5,282.4 400.0,281.0 C396.5,279.6 393.3,278.4 389.0,277.3 C384.7,276.2 378.9,274.8 374.0,274.3 C369.1,273.8 364.3,274.7 359.5,274.3 C354.7,273.9 349.9,273.3 345.0,272.1 C340.1,270.9 335.8,269.2 330.0,267.0 C324.2,264.8 316.7,260.9 310.0,259.0 C303.3,257.1 295.7,256.4 290.0,255.7 C284.3,255.0 281.2,255.2 276.0,254.8 C270.8,254.4 264.3,254.0 258.5,253.0 C252.7,252.0 246.9,249.9 241.0,248.6 C235.1,247.3 229.0,245.7 223.0,245.0 C217.0,244.3 210.8,244.9 205.0,244.2 C199.2,243.5 193.8,241.4 188.0,240.7 C182.2,240.0 178.0,240.3 170.0,239.8 C162.0,239.3 151.7,238.2 140.0,237.6 C128.3,237.0 113.0,236.5 100.0,236.0 C87.0,235.5 72.5,234.9 62.0,234.5 C51.5,234.1 41.2,233.8 37.0,233.6 Z"/></clipPath><path d="M37.0,233.6 C41.2,233.8 51.5,234.1 62.0,234.5 C72.5,234.9 87.0,235.5 100.0,236.0 C113.0,236.5 128.3,237.0 140.0,237.6 C151.7,238.2 162.0,239.3 170.0,239.8 C178.0,240.3 182.2,240.0 188.0,240.7 C193.8,241.4 199.2,243.5 205.0,244.2 C210.8,244.9 217.0,244.3 223.0,245.0 C229.0,245.7 235.1,247.3 241.0,248.6 C246.9,249.9 252.7,252.0 258.5,253.0 C264.3,254.0 270.8,254.4 276.0,254.8 C281.2,255.2 284.3,255.0 290.0,255.7 C295.7,256.4 303.3,257.1 310.0,259.0 C316.7,260.9 324.2,264.8 330.0,267.0 C335.8,269.2 340.1,270.9 345.0,272.1 C349.9,273.3 354.7,273.9 359.5,274.3 C364.3,274.7 369.1,273.8 374.0,274.3 C378.9,274.8 384.7,276.2 389.0,277.3 C393.3,278.4 396.5,279.6 400.0,281.0 C403.5,282.4 406.5,284.2 410.0,285.8 C413.5,287.4 417.3,289.5 421.0,290.6 C424.7,291.7 428.3,291.9 432.0,292.6 C435.7,293.3 439.3,293.6 443.0,294.7 C446.7,295.8 450.3,297.4 454.0,299.5 C457.7,301.6 461.3,304.4 465.0,307.0 C468.7,309.6 473.3,313.1 476.0,315.3 C478.7,317.5 477.7,318.6 481.0,320.0 C484.3,321.4 490.0,322.9 496.0,324.0 C502.0,325.1 510.3,325.8 517.0,326.5 C523.7,327.2 530.2,328.2 536.0,328.3 C541.8,328.4 546.7,327.9 552.0,327.3 C557.3,326.7 564.2,325.2 568.0,324.5 C571.8,323.8 573.8,323.5 575.0,323.3" fill="none" stroke="#101040" stroke-width="8.0" opacity="0.30" clip-path="url(#c_full)" filter="url(#shb)"/>
    <path d="M481.0,320.0 C483.5,320.7 490.0,322.9 496.0,324.0 C502.0,325.1 510.3,325.8 517.0,326.5 C523.7,327.2 530.2,328.2 536.0,328.3 C541.8,328.4 546.7,327.9 552.0,327.3 C557.3,326.7 564.2,325.2 568.0,324.5 C571.8,323.8 573.8,323.5 575.0,323.3 L575.0,376.5 C573.9,376.0 571.9,375.2 568.6,373.5 C565.3,371.8 559.6,368.7 555.0,366.0 C550.4,363.3 545.6,360.2 541.0,357.5 C536.4,354.8 530.8,351.9 527.4,350.0 C524.0,348.1 522.8,347.5 520.6,346.0 C518.4,344.5 516.3,342.8 514.0,341.0 C511.7,339.2 509.3,337.1 507.0,335.5 C504.7,333.9 501.8,332.6 500.0,331.5 C498.2,330.4 499.2,330.9 496.0,329.0 C492.8,327.1 483.5,321.5 481.0,320.0 Z" fill="#1bb89e"/>
    <clipPath id="c_ai"><path d="M481.0,320.0 C483.5,320.7 490.0,322.9 496.0,324.0 C502.0,325.1 510.3,325.8 517.0,326.5 C523.7,327.2 530.2,328.2 536.0,328.3 C541.8,328.4 546.7,327.9 552.0,327.3 C557.3,326.7 564.2,325.2 568.0,324.5 C571.8,323.8 573.8,323.5 575.0,323.3 L575.0,376.5 C573.9,376.0 571.9,375.2 568.6,373.5 C565.3,371.8 559.6,368.7 555.0,366.0 C550.4,363.3 545.6,360.2 541.0,357.5 C536.4,354.8 530.8,351.9 527.4,350.0 C524.0,348.1 522.8,347.5 520.6,346.0 C518.4,344.5 516.3,342.8 514.0,341.0 C511.7,339.2 509.3,337.1 507.0,335.5 C504.7,333.9 501.8,332.6 500.0,331.5 C498.2,330.4 499.2,330.9 496.0,329.0 C492.8,327.1 483.5,321.5 481.0,320.0 Z"/></clipPath><path d="M481.0,320.0 C483.5,321.5 492.8,327.1 496.0,329.0 C499.2,330.9 498.2,330.4 500.0,331.5 C501.8,332.6 504.7,333.9 507.0,335.5 C509.3,337.1 511.7,339.2 514.0,341.0 C516.3,342.8 518.4,344.5 520.6,346.0 C522.8,347.5 524.0,348.1 527.4,350.0 C530.8,351.9 536.4,354.8 541.0,357.5 C545.6,360.2 550.4,363.3 555.0,366.0 C559.6,368.7 565.3,371.8 568.6,373.5 C571.9,375.2 573.9,376.0 575.0,376.5" fill="none" stroke="#101040" stroke-width="5.0" opacity="0.20" clip-path="url(#c_ai)" filter="url(#shb)"/>

    <!-- vertical lines -->
    <g stroke="#b8b8c8" stroke-width="0.7" opacity="0.4">
      <line x1="161" y1="238" x2="161" y2="395"/>
      <line x1="358.7" y1="166" x2="358.7" y2="228"/>
      <line x1="433.5" y1="130" x2="433.5" y2="205"/>
      <line x1="544.6" y1="90" x2="544.6" y2="122"/>
      <line x1="396.2" y1="220" x2="396.2" y2="395"/>
      <line x1="421" y1="289" x2="421" y2="395"/>
      <line x1="482.3" y1="319" x2="482.3" y2="395"/>
      <line x1="556.4" y1="362" x2="556.4" y2="395"/>
    </g>
    <line x1="577.6" y1="99.5" x2="577.6" y2="378" stroke="#b8b8c8" stroke-width="0.6" opacity="0.5"/>
    <g fill="#e8e8ee"><circle cx="577.6" cy="100" r="0.7"/><circle cx="577.6" cy="160.3" r="0.7"/><circle cx="577.6" cy="251" r="0.7"/><circle cx="577.6" cy="271" r="0.7"/><circle cx="577.6" cy="322.5" r="0.7"/><circle cx="577.6" cy="377" r="0.7"/></g>
    <!-- yellow dots -->
    <g fill="#e8d84a">
      <circle cx="62" cy="234" r="2.4" opacity="0.35"/><circle cx="62" cy="234" r="1.2"/><circle cx="74.3" cy="233" r="0.8"/>
      <circle cx="371.5" cy="234.2" r="2.3" opacity="0.35"/><circle cx="383.6" cy="229.5" r="2.4" opacity="0.35"/><circle cx="395.8" cy="231.3" r="2.3" opacity="0.35"/><circle cx="371.5" cy="234.2" r="1.1"/><circle cx="383.6" cy="229.5" r="1.2"/><circle cx="395.8" cy="231.3" r="1.1"/>
      <circle cx="445.4" cy="251" r="0.7"/><circle cx="495" cy="326.2" r="2.4" opacity="0.35"/><circle cx="495" cy="326.2" r="1.2"/><circle cx="520" cy="326.3" r="0.7"/>
      <circle cx="272.3" cy="232.6" r="0.8"/><circle cx="297" cy="230" r="0.8"/><circle cx="173.4" cy="232" r="0.8"/>
    </g>
    <line x1="62" y1="234" x2="62" y2="241" stroke="#9a9aa0" stroke-width="0.5"/>
    <line x1="495" y1="326" x2="495" y2="337" stroke="#bbb" stroke-width="0.5"/>

    <!-- logo circles -->
    <circle cx="62" cy="246.5" r="5.5" fill="#fff"/>
    <circle cx="371" cy="283.9" r="5.6" fill="#fff"/>
    <circle cx="396.7" cy="303" r="5.5" fill="#fff"/>
    <circle cx="383.6" cy="179" r="5.8" fill="#fff"/>
    <circle cx="495" cy="342.6" r="5.2" fill="#fff"/>

    <!-- small icons -->
    <g fill="none" stroke-width="0.9" stroke-linejoin="round" opacity="0.8">
      <!-- Event Driven Simulation -->
      <rect x="66.3" y="180" width="5.4" height="7.3" stroke="#1f9a9a"/>
      <rect x="72.2" y="181" width="4.6" height="6.3" stroke="#2f63c0"/>
      <line x1="64.6" y1="188.2" x2="71.5" y2="188.2" stroke="#1f8fa0"/>
      <line x1="71.5" y1="188.2" x2="78" y2="188.2" stroke="#3558c8"/>
      <line x1="71.6" y1="179" x2="71.6" y2="190" stroke="#2a86b0"/>
      <!-- FPGA -->
      <circle cx="109.5" cy="184.7" r="3.2" stroke="#1f9a9a"/>
      <circle cx="109.5" cy="184.7" r="1.4" stroke="#1f8faa"/>
      <rect x="113" y="179.8" width="5" height="10" stroke="#2f63c0"/>
      <line x1="113" y1="182.3" x2="118" y2="182.3" stroke="#2f70c0"/>
      <line x1="113" y1="184.8" x2="118" y2="184.8" stroke="#2f66c4"/>
      <line x1="113" y1="187.3" x2="118" y2="187.3" stroke="#3060c8"/>
      <!-- HDL -->
      <path d="M146.3,185 L146.3,180.5 L149,178.8 L152.3,180.8 L152.3,183" stroke="#1f9a9a"/>
      <rect x="149.8" y="183.4" width="9" height="6.3" stroke="#2f63c0"/>
      <path d="M152.5,185.5 L151.5,186.6 L152.5,187.7 M155.8,185.5 L156.8,186.6 L155.8,187.7" stroke="#3060c8" stroke-width="0.6"/>
      <!-- Formal -->
      <rect x="206.2" y="179.8" width="8.6" height="9.8" stroke="#2a7ab8"/>
      <path d="M204.6,182 H206 M204.6,184.7 H206 M204.6,187.4 H206" stroke="#2f60c8"/>
      <path d="M215,182 H216.4 M215,184.7 H216.4 M215,187.4 H216.4" stroke="#1f9a9a"/>
      <path d="M208.3,183.8 L210,186.3 L213,182.8" stroke="#23a0b0"/>
      <!-- Hardware Emulator -->
      <circle cx="256.2" cy="184" r="3" stroke="#1f9a9a"/>
      <line x1="256.2" y1="187" x2="256.2" y2="189.4" stroke="#1f9a9a"/>
      <line x1="253.5" y1="189.6" x2="261" y2="189.6" stroke="#2a80b0"/>
      <rect x="261.2" y="180" width="4.8" height="9.6" stroke="#2f63c0"/>
      <line x1="261.2" y1="183.2" x2="266" y2="183.2" stroke="#2f63c0"/>
      <line x1="261.2" y1="186.4" x2="266" y2="186.4" stroke="#2f63c0"/>
      <!-- SystemC -->
      <circle cx="297.1" cy="169.8" r="5.3" stroke="#1f8fb0" stroke-width="1.1"/>
      <circle cx="297.1" cy="169.8" r="3.3" stroke="#2a80c0" stroke-width="0.8"/>
      <circle cx="297.1" cy="169.8" r="1.5" stroke="#2a90c0" stroke-width="0.7"/>
      <!-- SystemVerilog -->
      <path d="M352,141.5 C357,138.5 365,138.8 367.5,142.5" stroke="#1f8fa0" stroke-width="1"/>
      <path d="M351.5,145.5 C356,148.8 364,148.5 366.5,145.5" stroke="#1f8fa0" stroke-width="1"/>
      <line x1="349.8" y1="143.5" x2="368" y2="144.2" stroke="#2580b0" stroke-width="1"/>
      <!-- UPF -->
      <path d="M382.4,128.5 L385.3,132 L388.2,128.5 M385.3,132 L385.3,135.5" stroke="#1f8fa0"/>
      <path d="M378.8,134.5 C381,137.5 384.5,139.8 389,138.8 L388,136.5 L385.5,136" stroke="#2a70b8"/>
      <!-- UVM -->
      <path d="M429,111 C428.5,113 428.5,115 430,116.5 M428.8,110 H435.5" stroke="#2f63c0" stroke-width="0.9"/>
      <path d="M437.5,111.5 C438,113.5 437.8,116 436.5,117.3 H431.5" stroke="#1f9a9a" stroke-width="0.9"/>
      <circle cx="435.8" cy="109.8" r="0.8" fill="#1f9a9a" stroke="none"/>
      <circle cx="431.3" cy="117.4" r="0.8" fill="#2f63c0" stroke="none"/>
      <path d="M430.5,112.5 V115 H432.5 V112.5 M433.5,112.5 L434.5,115 L435.5,112.5" stroke="#2a80b8" stroke-width="0.6"/>
      <!-- PSS -->
      <path d="M539.3,74.5 V67.8 H543 L544,68.8 H549.6 V74.5 Z" stroke="#1f9a9a"/>
      <rect x="541.3" y="70.3" width="6" height="2.8" stroke="#1f9aa0" stroke-width="0.7"/>
      <rect x="538.2" y="76.3" width="12.2" height="3.4" stroke="#2f63c0"/>
      <line x1="542.3" y1="76.3" x2="542.3" y2="79.7" stroke="#2f63c0"/>
      <line x1="546.3" y1="76.3" x2="546.3" y2="79.7" stroke="#2f63c0"/>
    </g>
    <!-- logos -->
    <g>
      <text x="62" y="247.8" font-family="Liberation Sans" font-weight="bold" font-size="4.2" fill="#3f84cf" text-anchor="middle" letter-spacing="0.1">IBM</text>
      <line x1="57" y1="245.6" x2="67" y2="245.6" stroke="#fff" stroke-width="0.25"/>
      <line x1="57" y1="246.6" x2="67" y2="246.6" stroke="#fff" stroke-width="0.25"/>
      <text x="371.2" y="284.2" font-family="Liberation Sans" font-weight="bold" font-size="4" fill="#3a3f48" text-anchor="middle">aws</text>
      <path d="M367.5,285.8 C370,287 373,287 375,285.6" fill="none" stroke="#f0a020" stroke-width="0.8"/>
      <path d="M392.5,300.2 C395,299.2 397,299.2 399.5,300.2 L398.8,300.9 L396.6,300.6 L396,305.2 L395.4,300.6 L393.2,300.9 Z" fill="#222"/>
      <rect x="393.5" y="306.8" width="5" height="0.7" fill="#777"/>
      <path d="M383.4,176.6 C383.8,175.6 384.6,175.2 385.2,175.2 C385.2,176 384.6,176.7 383.4,176.6 Z M381.7,177 C382.7,177 383,177.4 383.6,177.4 C384.2,177.4 384.6,177 385.4,177 C386.2,177 386.8,177.6 387,178 C386,178.6 385.8,180.4 387.1,181 C386.7,182 386,182.9 385.2,182.9 C384.5,182.9 384.3,182.5 383.6,182.5 C382.9,182.5 382.7,182.9 382,182.9 C381,182.9 379.9,181 379.9,179.5 C379.9,178 380.7,177 381.7,177 Z" fill="#0a0a0a"/>
      <circle cx="495" cy="340.6" r="1.5" fill="#7ab4e0"/>
      <rect x="491" y="343.6" width="8" height="0.7" fill="#8a8f98"/>
    </g>
    <!-- tiny value labels -->
    <g font-family="Liberation Sans" font-size="2.8" text-anchor="middle" font-weight="bold">
      <text x="74.3" y="224.4" fill="#2aa6c4">1985</text><text x="74.3" y="228.2" fill="#ddd">0.40B</text>
      <text x="174" y="236.8" fill="#2a9ab8">1990</text><text x="174" y="240" fill="#fff">0.76B</text>
      <text x="272.3" y="242" fill="#1e7a90">1995</text><text x="272.3" y="245.8" fill="#fff">2.0B</text>
      <text x="383.6" y="239" fill="#1e6a90">2007</text><text x="383.6" y="242.4" fill="#fff">4.00B</text>
      <text x="396.4" y="215.6" fill="#5060d0">2008</text><text x="396.4" y="219.8" fill="#fff">2.00B</text>
      <text x="444.7" y="260.2" fill="#1e6a80">2012</text><text x="444.7" y="264.3" fill="#fff">40.0B</text>
      <text x="520" y="333.3" fill="#1e7a70">2018</text><text x="520" y="337.6" fill="#fff">1.0B</text>
      <text x="495" y="383" fill="#bbb">2.00B</text>
    </g>
    <!-- arrows -->
    <path d="M68.4,78.3 C68.6,80 69.5,81.2 71.5,81.3 L74,81.3" fill="none" stroke="#d8d8de" stroke-width="0.9" stroke-linecap="round"/>
    <path d="M73.8,79.9 L75.9,81.3 L73.8,82.7 Z" fill="#e0e0e6"/>
    <path d="M62.5,392.4 C62.6,390.9 63.6,389.9 65.5,389.9 L68.3,389.9" fill="none" stroke="#d8d8de" stroke-width="0.9" stroke-linecap="round"/>
    <path d="M68,388.3 L70.2,389.9 L68,391.5 Z" fill="#e0e0e6"/>
    <!-- title icons -->
    <path d="M79.2,22.6 L86.8,21 L86.8,23.8 L79.2,25.4 Z" fill="#22c49a"/>
    <path d="M79.2,27.4 L86.8,25.8 L86.8,44.2 L79.2,44.2 Z" fill="url(#gi)"/>
    <path d="M568,21 L576,22.6 L576,25.4 L568,23.8 Z" fill="#22c49a"/>
    <path d="M568,25.8 L576,27.4 L576,44.2 L568,44.2 Z" fill="url(#gi)"/>
  </g>
</svg>

<div class="title">趋势一：新兴应用领域飞速发展，需求急剧分化</div>

<div class="lab" style="left:38px;top:64px;width:69px;height:11px;font-size:7.7px;border-bottom:1.2px solid #4b5fd8;">EDA验证技术历史</div>
<div class="lab" style="left:577px;top:83px;width:54px;height:11px;font-size:7.6px;border-bottom:1.2px solid #4b5fd8;color:#1d2030;">市场规模数据</div>
<div class="lab" style="left:38px;top:397px;width:53.5px;height:11px;font-size:7.4px;border-top:1.2px solid #4b5fd8;">先进工艺节点</div>

<div class="t" style="left:114.4px;top:170px;font-size:8.6px;">80年代</div>
<div class="t" style="left:234px;top:170px;font-size:8.6px;">90年代</div>
<div class="t ic" style="left:71.3px;top:204.4px;">Event<br>Driven<br>Simulation</div>
<div class="t ic" style="left:112px;top:200.7px;">FPGA<br>Prototyping</div>
<div class="t ic" style="left:152px;top:200.7px;">HDL<br>Languages</div>
<div class="t ic" style="left:210.7px;top:200.5px;">Formal<br>methods</div>
<div class="t ic" style="left:259.7px;top:200.5px;">Hardware<br>Emulator</div>

<div class="t yr2" style="left:297px;top:155px;">2000</div>
<div class="t ic" style="left:297px;top:181.5px;">SystemC/TLM</div>
<div class="t yr2" style="left:359px;top:128.3px;">2005</div>
<div class="t ic" style="left:359px;top:159px;">SystemVerilog<br>(IEEE标准)</div>
<div class="t yr2" style="left:385.5px;top:118.8px;">2007</div>
<div class="t ic" style="left:383.5px;top:145.8px;">UPF</div>
<div class="t yr2" style="left:432.7px;top:98.2px;">2011</div>
<div class="t ic" style="left:432.9px;top:125px;">UVM</div>
<div class="t yr2" style="left:544.6px;top:58.2px;">2020</div>
<div class="t ic" style="left:544.6px;top:86.1px;">PSS</div>

<div class="t big" style="left:62px;top:258.7px;color:#2aa6c4;">1981</div>
<div class="t sm" style="left:62px;top:268px;">第一台PC IBM5150</div>
<div class="t big" style="left:371px;top:296px;color:#2aa0b2;">2006</div>
<div class="t sm" style="left:371px;top:307.4px;line-height:5.2px;">亚马逊AWS<br>正式推出</div>
<div class="t big" style="left:383.6px;top:190.3px;color:#5468e0;">2007</div>
<div class="t sm" style="left:383.6px;top:204.6px;line-height:5.7px;">首款<br>iPhone<br>发布</div>
<div class="t big" style="left:396.7px;top:314.9px;color:#3f62d2;">2008</div>
<div class="t sm" style="left:396.7px;top:329.3px;line-height:5.7px;">特斯拉<br>Roadster<br>诞生</div>
<div class="t big" style="left:495px;top:355px;color:#2aa0b2;">2016</div>
<div class="t sm" style="left:495px;top:369.2px;line-height:5.15px;font-size:5px;">第一个战<br>胜围棋世<br>界冠军的<br>AI机器人</div>

<div class="t yr" style="left:161px;top:403px;">1989</div>
<div class="t yr" style="left:285px;top:403px;">1999</div>
<div class="t yr" style="left:396.2px;top:403px;">2008</div>
<div class="t yr" style="left:420.7px;top:403px;">2010</div>
<div class="t yr" style="left:482.7px;top:403px;">2015</div>
<div class="t yr" style="left:519.2px;top:403px;">2018</div>
<div class="t yr" style="left:556.4px;top:403px;">2021</div>
<div class="t sm" style="left:161px;top:414.2px;">1微米</div>
<div class="t sm" style="left:285px;top:414.2px;">0.18微米</div>
<div class="t sm" style="left:396.2px;top:414.2px;">45纳米</div>
<div class="t sm" style="left:420.7px;top:416.2px;line-height:5.4px;">FinFET<br>晶体管</div>
<div class="t sm" style="left:482.7px;top:414.2px;">14/16纳米</div>
<div class="t sm" style="left:519.2px;top:414.2px;">7纳米</div>
<div class="t sm" style="left:556.4px;top:414.2px;">5纳米</div>

<div class="l" style="left:583.4px;top:116px;font-size:5.5px;line-height:6.6px;color:#4e5fe0;">CELLPHONE<br>CHIPS</div>
<div class="l" style="left:583.4px;top:131.6px;font-size:10.2px;-webkit-text-stroke:0.3px currentColor;color:#5061e2;">34B$</div>
<div class="l" style="left:583.4px;top:199.7px;font-size:5.5px;line-height:6.4px;color:#3b7ad2;">AUTOMOTIVE<br>CHIPS</div>
<div class="l" style="left:583.4px;top:215.5px;font-size:10.2px;-webkit-text-stroke:0.3px currentColor;color:#3b7ad2;">56.5B$</div>
<div class="l" style="left:583.4px;top:250.6px;font-size:5.5px;line-height:6.2px;color:#3590c8;">DATACENTER<br>CHIPS</div>
<div class="l" style="left:583.4px;top:266.6px;font-size:10.2px;-webkit-text-stroke:0.3px currentColor;color:#3590c8;">11.3B$</div>
<div class="l" style="left:583.4px;top:294px;font-size:5.5px;line-height:6.6px;color:#2aa8b8;">PERSONAL<br>COMPUTING<br>CHIPS</div>
<div class="l" style="left:583.4px;top:311px;font-size:10.2px;-webkit-text-stroke:0.3px currentColor;color:#2aa8b8;">42.7B$</div>
<div class="l" style="left:583.4px;top:342.2px;font-size:5.5px;line-height:7px;color:#28c2a6;">AI<br>CHIPS</div>
<div class="l" style="left:583.4px;top:358px;font-size:10.2px;-webkit-text-stroke:0.3px currentColor;color:#28c2a6;">39.5B$</div>

</body></html>
